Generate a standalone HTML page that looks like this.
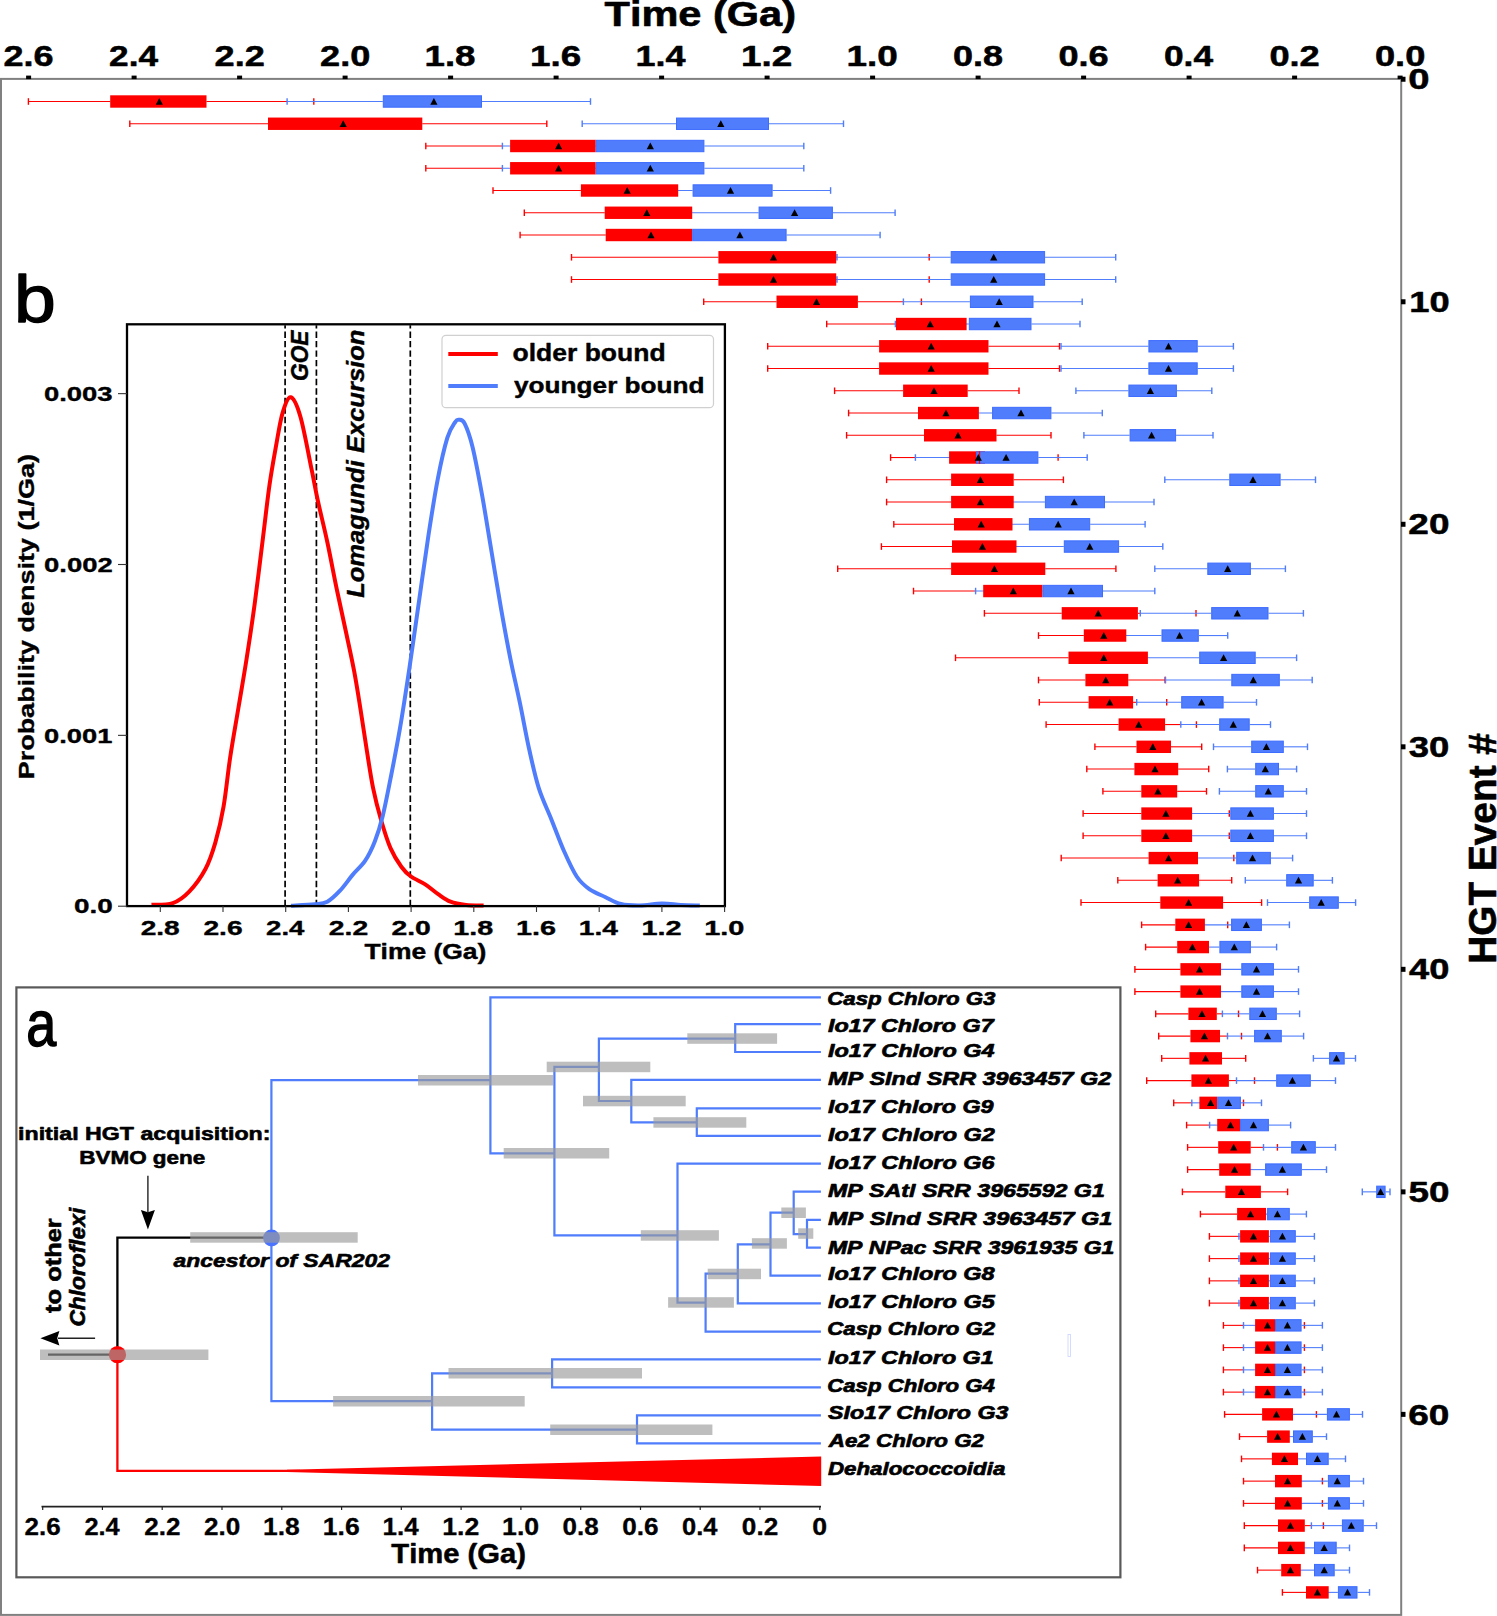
<!DOCTYPE html>
<html><head><meta charset="utf-8"><style>
html,body{margin:0;padding:0;background:#fff;}
svg{display:block;font-family:"Liberation Sans",sans-serif;font-kerning:none;}
</style></head><body>
<svg width="1497" height="1616" viewBox="0 0 1497 1616">
<rect width="1497" height="1616" fill="#fff"/>
<g id="boxes">
<line x1="206.5" y1="101.50" x2="287.1" y2="101.50" stroke="#ff0000" stroke-width="1.10"/><line x1="28.4" y1="101.50" x2="110.2" y2="101.50" stroke="#ff0000" stroke-width="1.10"/><line x1="28.4" y1="98.20" x2="28.4" y2="104.80" stroke="#ff0000" stroke-width="1.40"/><line x1="313.8" y1="98.20" x2="313.8" y2="104.80" stroke="#ff0000" stroke-width="1.40"/><line x1="422.3" y1="123.75" x2="546.8" y2="123.75" stroke="#ff0000" stroke-width="1.10"/><line x1="129.8" y1="123.75" x2="268.0" y2="123.75" stroke="#ff0000" stroke-width="1.10"/><line x1="129.8" y1="120.45" x2="129.8" y2="127.05" stroke="#ff0000" stroke-width="1.40"/><line x1="546.8" y1="120.45" x2="546.8" y2="127.05" stroke="#ff0000" stroke-width="1.40"/><line x1="425.8" y1="146.01" x2="502.4" y2="146.01" stroke="#ff0000" stroke-width="1.10"/><line x1="425.8" y1="142.71" x2="425.8" y2="149.31" stroke="#ff0000" stroke-width="1.40"/><line x1="425.8" y1="168.26" x2="502.4" y2="168.26" stroke="#ff0000" stroke-width="1.10"/><line x1="425.8" y1="164.96" x2="425.8" y2="171.56" stroke="#ff0000" stroke-width="1.40"/><line x1="493.0" y1="190.51" x2="580.9" y2="190.51" stroke="#ff0000" stroke-width="1.10"/><line x1="493.0" y1="187.21" x2="493.0" y2="193.81" stroke="#ff0000" stroke-width="1.40"/><line x1="524.3" y1="212.76" x2="604.7" y2="212.76" stroke="#ff0000" stroke-width="1.10"/><line x1="524.3" y1="209.46" x2="524.3" y2="216.06" stroke="#ff0000" stroke-width="1.40"/><line x1="520.1" y1="235.01" x2="605.7" y2="235.01" stroke="#ff0000" stroke-width="1.10"/><line x1="520.1" y1="231.71" x2="520.1" y2="238.31" stroke="#ff0000" stroke-width="1.40"/><line x1="836.2" y1="257.27" x2="837.0" y2="257.27" stroke="#ff0000" stroke-width="1.10"/><line x1="571.5" y1="257.27" x2="718.4" y2="257.27" stroke="#ff0000" stroke-width="1.10"/><line x1="571.5" y1="253.97" x2="571.5" y2="260.57" stroke="#ff0000" stroke-width="1.40"/><line x1="929.2" y1="253.97" x2="929.2" y2="260.57" stroke="#ff0000" stroke-width="1.40"/><line x1="836.2" y1="279.52" x2="837.0" y2="279.52" stroke="#ff0000" stroke-width="1.10"/><line x1="571.5" y1="279.52" x2="718.4" y2="279.52" stroke="#ff0000" stroke-width="1.10"/><line x1="571.5" y1="276.22" x2="571.5" y2="282.82" stroke="#ff0000" stroke-width="1.40"/><line x1="929.2" y1="276.22" x2="929.2" y2="282.82" stroke="#ff0000" stroke-width="1.40"/><line x1="857.9" y1="301.77" x2="903.4" y2="301.77" stroke="#ff0000" stroke-width="1.10"/><line x1="703.7" y1="301.77" x2="776.5" y2="301.77" stroke="#ff0000" stroke-width="1.10"/><line x1="703.7" y1="298.47" x2="703.7" y2="305.07" stroke="#ff0000" stroke-width="1.40"/><line x1="921.4" y1="298.47" x2="921.4" y2="305.07" stroke="#ff0000" stroke-width="1.40"/><line x1="826.7" y1="324.02" x2="895.4" y2="324.02" stroke="#ff0000" stroke-width="1.10"/><line x1="826.7" y1="320.72" x2="826.7" y2="327.32" stroke="#ff0000" stroke-width="1.40"/><line x1="988.5" y1="346.27" x2="1059.5" y2="346.27" stroke="#ff0000" stroke-width="1.10"/><line x1="767.7" y1="346.27" x2="879.1" y2="346.27" stroke="#ff0000" stroke-width="1.10"/><line x1="767.7" y1="342.97" x2="767.7" y2="349.57" stroke="#ff0000" stroke-width="1.40"/><line x1="1059.5" y1="342.97" x2="1059.5" y2="349.57" stroke="#ff0000" stroke-width="1.40"/><line x1="988.5" y1="368.53" x2="1059.5" y2="368.53" stroke="#ff0000" stroke-width="1.10"/><line x1="767.7" y1="368.53" x2="879.1" y2="368.53" stroke="#ff0000" stroke-width="1.10"/><line x1="767.7" y1="365.23" x2="767.7" y2="371.83" stroke="#ff0000" stroke-width="1.40"/><line x1="1059.5" y1="365.23" x2="1059.5" y2="371.83" stroke="#ff0000" stroke-width="1.40"/><line x1="967.7" y1="390.78" x2="1019.0" y2="390.78" stroke="#ff0000" stroke-width="1.10"/><line x1="834.6" y1="390.78" x2="903.1" y2="390.78" stroke="#ff0000" stroke-width="1.10"/><line x1="834.6" y1="387.48" x2="834.6" y2="394.08" stroke="#ff0000" stroke-width="1.40"/><line x1="1019.0" y1="387.48" x2="1019.0" y2="394.08" stroke="#ff0000" stroke-width="1.40"/><line x1="848.6" y1="413.03" x2="918.0" y2="413.03" stroke="#ff0000" stroke-width="1.10"/><line x1="848.6" y1="409.73" x2="848.6" y2="416.33" stroke="#ff0000" stroke-width="1.40"/><line x1="996.5" y1="435.28" x2="1051.0" y2="435.28" stroke="#ff0000" stroke-width="1.10"/><line x1="846.6" y1="435.28" x2="924.0" y2="435.28" stroke="#ff0000" stroke-width="1.10"/><line x1="846.6" y1="431.98" x2="846.6" y2="438.58" stroke="#ff0000" stroke-width="1.40"/><line x1="1051.0" y1="431.98" x2="1051.0" y2="438.58" stroke="#ff0000" stroke-width="1.40"/><line x1="890.6" y1="457.53" x2="915.4" y2="457.53" stroke="#ff0000" stroke-width="1.10"/><line x1="890.6" y1="454.23" x2="890.6" y2="460.83" stroke="#ff0000" stroke-width="1.40"/><line x1="1058.1" y1="454.23" x2="1058.1" y2="460.83" stroke="#ff0000" stroke-width="1.40"/><line x1="1013.7" y1="479.79" x2="1063.4" y2="479.79" stroke="#ff0000" stroke-width="1.10"/><line x1="886.6" y1="479.79" x2="951.1" y2="479.79" stroke="#ff0000" stroke-width="1.10"/><line x1="886.6" y1="476.49" x2="886.6" y2="483.09" stroke="#ff0000" stroke-width="1.40"/><line x1="1063.4" y1="476.49" x2="1063.4" y2="483.09" stroke="#ff0000" stroke-width="1.40"/><line x1="886.6" y1="502.04" x2="951.1" y2="502.04" stroke="#ff0000" stroke-width="1.10"/><line x1="886.6" y1="498.74" x2="886.6" y2="505.34" stroke="#ff0000" stroke-width="1.40"/><line x1="893.8" y1="524.29" x2="954.0" y2="524.29" stroke="#ff0000" stroke-width="1.10"/><line x1="893.8" y1="520.99" x2="893.8" y2="527.59" stroke="#ff0000" stroke-width="1.40"/><line x1="881.4" y1="546.54" x2="952.0" y2="546.54" stroke="#ff0000" stroke-width="1.10"/><line x1="881.4" y1="543.24" x2="881.4" y2="549.84" stroke="#ff0000" stroke-width="1.40"/><line x1="1045.3" y1="568.79" x2="1115.9" y2="568.79" stroke="#ff0000" stroke-width="1.10"/><line x1="837.7" y1="568.79" x2="951.1" y2="568.79" stroke="#ff0000" stroke-width="1.10"/><line x1="837.7" y1="565.49" x2="837.7" y2="572.09" stroke="#ff0000" stroke-width="1.40"/><line x1="1115.9" y1="565.49" x2="1115.9" y2="572.09" stroke="#ff0000" stroke-width="1.40"/><line x1="913.5" y1="591.05" x2="975.6" y2="591.05" stroke="#ff0000" stroke-width="1.10"/><line x1="913.5" y1="587.75" x2="913.5" y2="594.35" stroke="#ff0000" stroke-width="1.40"/><line x1="1137.9" y1="613.30" x2="1140.3" y2="613.30" stroke="#ff0000" stroke-width="1.10"/><line x1="984.4" y1="613.30" x2="1061.7" y2="613.30" stroke="#ff0000" stroke-width="1.10"/><line x1="984.4" y1="610.00" x2="984.4" y2="616.60" stroke="#ff0000" stroke-width="1.40"/><line x1="1196.0" y1="610.00" x2="1196.0" y2="616.60" stroke="#ff0000" stroke-width="1.40"/><line x1="1038.5" y1="635.55" x2="1083.8" y2="635.55" stroke="#ff0000" stroke-width="1.10"/><line x1="1038.5" y1="632.25" x2="1038.5" y2="638.85" stroke="#ff0000" stroke-width="1.40"/><line x1="955.5" y1="657.80" x2="1068.5" y2="657.80" stroke="#ff0000" stroke-width="1.10"/><line x1="955.5" y1="654.50" x2="955.5" y2="661.10" stroke="#ff0000" stroke-width="1.40"/><line x1="1128.3" y1="680.05" x2="1165.1" y2="680.05" stroke="#ff0000" stroke-width="1.10"/><line x1="1038.5" y1="680.05" x2="1085.4" y2="680.05" stroke="#ff0000" stroke-width="1.10"/><line x1="1038.5" y1="676.75" x2="1038.5" y2="683.35" stroke="#ff0000" stroke-width="1.40"/><line x1="1165.1" y1="676.75" x2="1165.1" y2="683.35" stroke="#ff0000" stroke-width="1.40"/><line x1="1133.1" y1="702.31" x2="1136.7" y2="702.31" stroke="#ff0000" stroke-width="1.10"/><line x1="1039.3" y1="702.31" x2="1088.6" y2="702.31" stroke="#ff0000" stroke-width="1.10"/><line x1="1039.3" y1="699.01" x2="1039.3" y2="705.61" stroke="#ff0000" stroke-width="1.40"/><line x1="1166.7" y1="699.01" x2="1166.7" y2="705.61" stroke="#ff0000" stroke-width="1.40"/><line x1="1165.1" y1="724.56" x2="1180.8" y2="724.56" stroke="#ff0000" stroke-width="1.10"/><line x1="1046.1" y1="724.56" x2="1118.6" y2="724.56" stroke="#ff0000" stroke-width="1.10"/><line x1="1046.1" y1="721.26" x2="1046.1" y2="727.86" stroke="#ff0000" stroke-width="1.40"/><line x1="1196.4" y1="721.26" x2="1196.4" y2="727.86" stroke="#ff0000" stroke-width="1.40"/><line x1="1171.0" y1="746.81" x2="1201.7" y2="746.81" stroke="#ff0000" stroke-width="1.10"/><line x1="1094.9" y1="746.81" x2="1136.5" y2="746.81" stroke="#ff0000" stroke-width="1.10"/><line x1="1094.9" y1="743.51" x2="1094.9" y2="750.11" stroke="#ff0000" stroke-width="1.40"/><line x1="1201.7" y1="743.51" x2="1201.7" y2="750.11" stroke="#ff0000" stroke-width="1.40"/><line x1="1178.2" y1="769.06" x2="1208.7" y2="769.06" stroke="#ff0000" stroke-width="1.10"/><line x1="1086.8" y1="769.06" x2="1134.4" y2="769.06" stroke="#ff0000" stroke-width="1.10"/><line x1="1086.8" y1="765.76" x2="1086.8" y2="772.36" stroke="#ff0000" stroke-width="1.40"/><line x1="1208.7" y1="765.76" x2="1208.7" y2="772.36" stroke="#ff0000" stroke-width="1.40"/><line x1="1177.2" y1="791.31" x2="1206.5" y2="791.31" stroke="#ff0000" stroke-width="1.10"/><line x1="1102.9" y1="791.31" x2="1141.3" y2="791.31" stroke="#ff0000" stroke-width="1.10"/><line x1="1102.9" y1="788.01" x2="1102.9" y2="794.61" stroke="#ff0000" stroke-width="1.40"/><line x1="1206.5" y1="788.01" x2="1206.5" y2="794.61" stroke="#ff0000" stroke-width="1.40"/><line x1="1083.1" y1="813.57" x2="1141.3" y2="813.57" stroke="#ff0000" stroke-width="1.10"/><line x1="1083.1" y1="810.27" x2="1083.1" y2="816.87" stroke="#ff0000" stroke-width="1.40"/><line x1="1229.3" y1="810.27" x2="1229.3" y2="816.87" stroke="#ff0000" stroke-width="1.40"/><line x1="1083.1" y1="835.82" x2="1141.3" y2="835.82" stroke="#ff0000" stroke-width="1.10"/><line x1="1083.1" y1="832.52" x2="1083.1" y2="839.12" stroke="#ff0000" stroke-width="1.40"/><line x1="1229.3" y1="832.52" x2="1229.3" y2="839.12" stroke="#ff0000" stroke-width="1.40"/><line x1="1061.2" y1="858.07" x2="1148.6" y2="858.07" stroke="#ff0000" stroke-width="1.10"/><line x1="1061.2" y1="854.77" x2="1061.2" y2="861.37" stroke="#ff0000" stroke-width="1.40"/><line x1="1233.8" y1="854.77" x2="1233.8" y2="861.37" stroke="#ff0000" stroke-width="1.40"/><line x1="1199.1" y1="880.32" x2="1231.7" y2="880.32" stroke="#ff0000" stroke-width="1.10"/><line x1="1117.8" y1="880.32" x2="1157.6" y2="880.32" stroke="#ff0000" stroke-width="1.10"/><line x1="1117.8" y1="877.02" x2="1117.8" y2="883.62" stroke="#ff0000" stroke-width="1.40"/><line x1="1231.7" y1="877.02" x2="1231.7" y2="883.62" stroke="#ff0000" stroke-width="1.40"/><line x1="1223.1" y1="902.57" x2="1261.6" y2="902.57" stroke="#ff0000" stroke-width="1.10"/><line x1="1081.0" y1="902.57" x2="1160.3" y2="902.57" stroke="#ff0000" stroke-width="1.10"/><line x1="1081.0" y1="899.27" x2="1081.0" y2="905.87" stroke="#ff0000" stroke-width="1.40"/><line x1="1261.6" y1="899.27" x2="1261.6" y2="905.87" stroke="#ff0000" stroke-width="1.40"/><line x1="1141.6" y1="924.83" x2="1175.3" y2="924.83" stroke="#ff0000" stroke-width="1.10"/><line x1="1141.6" y1="921.53" x2="1141.6" y2="928.13" stroke="#ff0000" stroke-width="1.40"/><line x1="1227.7" y1="921.53" x2="1227.7" y2="928.13" stroke="#ff0000" stroke-width="1.40"/><line x1="1145.6" y1="947.08" x2="1177.2" y2="947.08" stroke="#ff0000" stroke-width="1.10"/><line x1="1145.6" y1="943.78" x2="1145.6" y2="950.38" stroke="#ff0000" stroke-width="1.40"/><line x1="1134.9" y1="969.33" x2="1180.4" y2="969.33" stroke="#ff0000" stroke-width="1.10"/><line x1="1134.9" y1="966.03" x2="1134.9" y2="972.63" stroke="#ff0000" stroke-width="1.40"/><line x1="1134.9" y1="991.58" x2="1180.4" y2="991.58" stroke="#ff0000" stroke-width="1.10"/><line x1="1134.9" y1="988.28" x2="1134.9" y2="994.88" stroke="#ff0000" stroke-width="1.40"/><line x1="1216.8" y1="1013.83" x2="1222.4" y2="1013.83" stroke="#ff0000" stroke-width="1.10"/><line x1="1155.7" y1="1013.83" x2="1188.4" y2="1013.83" stroke="#ff0000" stroke-width="1.10"/><line x1="1155.7" y1="1010.53" x2="1155.7" y2="1017.13" stroke="#ff0000" stroke-width="1.40"/><line x1="1238.5" y1="1010.53" x2="1238.5" y2="1017.13" stroke="#ff0000" stroke-width="1.40"/><line x1="1220.0" y1="1036.09" x2="1227.5" y2="1036.09" stroke="#ff0000" stroke-width="1.10"/><line x1="1158.7" y1="1036.09" x2="1190.4" y2="1036.09" stroke="#ff0000" stroke-width="1.10"/><line x1="1158.7" y1="1032.79" x2="1158.7" y2="1039.39" stroke="#ff0000" stroke-width="1.40"/><line x1="1241.5" y1="1032.79" x2="1241.5" y2="1039.39" stroke="#ff0000" stroke-width="1.40"/><line x1="1222.0" y1="1058.34" x2="1245.7" y2="1058.34" stroke="#ff0000" stroke-width="1.10"/><line x1="1161.7" y1="1058.34" x2="1189.4" y2="1058.34" stroke="#ff0000" stroke-width="1.10"/><line x1="1161.7" y1="1055.04" x2="1161.7" y2="1061.64" stroke="#ff0000" stroke-width="1.40"/><line x1="1245.7" y1="1055.04" x2="1245.7" y2="1061.64" stroke="#ff0000" stroke-width="1.40"/><line x1="1228.9" y1="1080.59" x2="1236.5" y2="1080.59" stroke="#ff0000" stroke-width="1.10"/><line x1="1146.7" y1="1080.59" x2="1191.4" y2="1080.59" stroke="#ff0000" stroke-width="1.10"/><line x1="1146.7" y1="1077.29" x2="1146.7" y2="1083.89" stroke="#ff0000" stroke-width="1.40"/><line x1="1254.5" y1="1077.29" x2="1254.5" y2="1083.89" stroke="#ff0000" stroke-width="1.40"/><line x1="1173.7" y1="1102.84" x2="1191.8" y2="1102.84" stroke="#ff0000" stroke-width="1.10"/><line x1="1173.7" y1="1099.54" x2="1173.7" y2="1106.14" stroke="#ff0000" stroke-width="1.40"/><line x1="1243.5" y1="1099.54" x2="1243.5" y2="1106.14" stroke="#ff0000" stroke-width="1.40"/><line x1="1186.6" y1="1125.09" x2="1209.6" y2="1125.09" stroke="#ff0000" stroke-width="1.10"/><line x1="1186.6" y1="1121.79" x2="1186.6" y2="1128.39" stroke="#ff0000" stroke-width="1.40"/><line x1="1250.7" y1="1147.35" x2="1263.5" y2="1147.35" stroke="#ff0000" stroke-width="1.10"/><line x1="1187.6" y1="1147.35" x2="1218.2" y2="1147.35" stroke="#ff0000" stroke-width="1.10"/><line x1="1187.6" y1="1144.05" x2="1187.6" y2="1150.65" stroke="#ff0000" stroke-width="1.40"/><line x1="1277.4" y1="1144.05" x2="1277.4" y2="1150.65" stroke="#ff0000" stroke-width="1.40"/><line x1="1187.6" y1="1169.60" x2="1219.2" y2="1169.60" stroke="#ff0000" stroke-width="1.10"/><line x1="1187.6" y1="1166.30" x2="1187.6" y2="1172.90" stroke="#ff0000" stroke-width="1.40"/><line x1="1260.9" y1="1191.85" x2="1287.6" y2="1191.85" stroke="#ff0000" stroke-width="1.10"/><line x1="1182.4" y1="1191.85" x2="1225.3" y2="1191.85" stroke="#ff0000" stroke-width="1.10"/><line x1="1182.4" y1="1188.55" x2="1182.4" y2="1195.15" stroke="#ff0000" stroke-width="1.40"/><line x1="1287.6" y1="1188.55" x2="1287.6" y2="1195.15" stroke="#ff0000" stroke-width="1.40"/><line x1="1200.4" y1="1214.10" x2="1237.1" y2="1214.10" stroke="#ff0000" stroke-width="1.10"/><line x1="1200.4" y1="1210.80" x2="1200.4" y2="1217.40" stroke="#ff0000" stroke-width="1.40"/><line x1="1209.4" y1="1236.35" x2="1239.0" y2="1236.35" stroke="#ff0000" stroke-width="1.10"/><line x1="1209.4" y1="1233.05" x2="1209.4" y2="1239.65" stroke="#ff0000" stroke-width="1.40"/><line x1="1209.4" y1="1258.61" x2="1239.0" y2="1258.61" stroke="#ff0000" stroke-width="1.10"/><line x1="1209.4" y1="1255.31" x2="1209.4" y2="1261.91" stroke="#ff0000" stroke-width="1.40"/><line x1="1209.4" y1="1280.86" x2="1239.0" y2="1280.86" stroke="#ff0000" stroke-width="1.10"/><line x1="1209.4" y1="1277.56" x2="1209.4" y2="1284.16" stroke="#ff0000" stroke-width="1.40"/><line x1="1209.4" y1="1303.11" x2="1239.0" y2="1303.11" stroke="#ff0000" stroke-width="1.10"/><line x1="1209.4" y1="1299.81" x2="1209.4" y2="1306.41" stroke="#ff0000" stroke-width="1.40"/><line x1="1223.4" y1="1325.36" x2="1243.5" y2="1325.36" stroke="#ff0000" stroke-width="1.10"/><line x1="1223.4" y1="1322.06" x2="1223.4" y2="1328.66" stroke="#ff0000" stroke-width="1.40"/><line x1="1304.4" y1="1322.06" x2="1304.4" y2="1328.66" stroke="#ff0000" stroke-width="1.40"/><line x1="1223.4" y1="1347.61" x2="1243.5" y2="1347.61" stroke="#ff0000" stroke-width="1.10"/><line x1="1223.4" y1="1344.31" x2="1223.4" y2="1350.91" stroke="#ff0000" stroke-width="1.40"/><line x1="1304.4" y1="1344.31" x2="1304.4" y2="1350.91" stroke="#ff0000" stroke-width="1.40"/><line x1="1223.4" y1="1369.87" x2="1243.5" y2="1369.87" stroke="#ff0000" stroke-width="1.10"/><line x1="1223.4" y1="1366.57" x2="1223.4" y2="1373.17" stroke="#ff0000" stroke-width="1.40"/><line x1="1304.4" y1="1366.57" x2="1304.4" y2="1373.17" stroke="#ff0000" stroke-width="1.40"/><line x1="1223.4" y1="1392.12" x2="1243.5" y2="1392.12" stroke="#ff0000" stroke-width="1.10"/><line x1="1223.4" y1="1388.82" x2="1223.4" y2="1395.42" stroke="#ff0000" stroke-width="1.40"/><line x1="1304.4" y1="1388.82" x2="1304.4" y2="1395.42" stroke="#ff0000" stroke-width="1.40"/><line x1="1224.6" y1="1414.37" x2="1262.1" y2="1414.37" stroke="#ff0000" stroke-width="1.10"/><line x1="1224.6" y1="1411.07" x2="1224.6" y2="1417.67" stroke="#ff0000" stroke-width="1.40"/><line x1="1316.4" y1="1411.07" x2="1316.4" y2="1417.67" stroke="#ff0000" stroke-width="1.40"/><line x1="1239.5" y1="1436.62" x2="1267.1" y2="1436.62" stroke="#ff0000" stroke-width="1.10"/><line x1="1239.5" y1="1433.32" x2="1239.5" y2="1439.92" stroke="#ff0000" stroke-width="1.40"/><line x1="1241.5" y1="1458.87" x2="1271.9" y2="1458.87" stroke="#ff0000" stroke-width="1.10"/><line x1="1241.5" y1="1455.57" x2="1241.5" y2="1462.17" stroke="#ff0000" stroke-width="1.40"/><line x1="1243.5" y1="1481.13" x2="1275.0" y2="1481.13" stroke="#ff0000" stroke-width="1.10"/><line x1="1243.5" y1="1477.83" x2="1243.5" y2="1484.43" stroke="#ff0000" stroke-width="1.40"/><line x1="1322.4" y1="1477.83" x2="1322.4" y2="1484.43" stroke="#ff0000" stroke-width="1.40"/><line x1="1243.5" y1="1503.38" x2="1275.0" y2="1503.38" stroke="#ff0000" stroke-width="1.10"/><line x1="1243.5" y1="1500.08" x2="1243.5" y2="1506.68" stroke="#ff0000" stroke-width="1.40"/><line x1="1322.4" y1="1500.08" x2="1322.4" y2="1506.68" stroke="#ff0000" stroke-width="1.40"/><line x1="1304.8" y1="1525.63" x2="1311.4" y2="1525.63" stroke="#ff0000" stroke-width="1.10"/><line x1="1244.3" y1="1525.63" x2="1278.0" y2="1525.63" stroke="#ff0000" stroke-width="1.10"/><line x1="1244.3" y1="1522.33" x2="1244.3" y2="1528.93" stroke="#ff0000" stroke-width="1.40"/><line x1="1323.4" y1="1522.33" x2="1323.4" y2="1528.93" stroke="#ff0000" stroke-width="1.40"/><line x1="1244.3" y1="1547.88" x2="1278.0" y2="1547.88" stroke="#ff0000" stroke-width="1.10"/><line x1="1244.3" y1="1544.58" x2="1244.3" y2="1551.18" stroke="#ff0000" stroke-width="1.40"/><line x1="1257.5" y1="1570.13" x2="1281.2" y2="1570.13" stroke="#ff0000" stroke-width="1.10"/><line x1="1257.5" y1="1566.83" x2="1257.5" y2="1573.43" stroke="#ff0000" stroke-width="1.40"/><line x1="1282.4" y1="1592.39" x2="1306.0" y2="1592.39" stroke="#ff0000" stroke-width="1.10"/><line x1="1282.4" y1="1589.09" x2="1282.4" y2="1595.69" stroke="#ff0000" stroke-width="1.40"/>
<line x1="482.0" y1="101.50" x2="590.5" y2="101.50" stroke="#4f7dfb" stroke-width="1.10"/><line x1="287.1" y1="101.50" x2="382.8" y2="101.50" stroke="#4f7dfb" stroke-width="1.10"/><line x1="287.1" y1="98.20" x2="287.1" y2="104.80" stroke="#4f7dfb" stroke-width="1.40"/><line x1="590.5" y1="98.20" x2="590.5" y2="104.80" stroke="#4f7dfb" stroke-width="1.40"/><line x1="769.0" y1="123.75" x2="843.5" y2="123.75" stroke="#4f7dfb" stroke-width="1.10"/><line x1="582.2" y1="123.75" x2="676.0" y2="123.75" stroke="#4f7dfb" stroke-width="1.10"/><line x1="582.2" y1="120.45" x2="582.2" y2="127.05" stroke="#4f7dfb" stroke-width="1.40"/><line x1="843.5" y1="120.45" x2="843.5" y2="127.05" stroke="#4f7dfb" stroke-width="1.40"/><line x1="704.4" y1="146.01" x2="803.8" y2="146.01" stroke="#4f7dfb" stroke-width="1.10"/><line x1="502.4" y1="146.01" x2="595.7" y2="146.01" stroke="#4f7dfb" stroke-width="1.10"/><line x1="502.4" y1="142.71" x2="502.4" y2="149.31" stroke="#4f7dfb" stroke-width="1.40"/><line x1="803.8" y1="142.71" x2="803.8" y2="149.31" stroke="#4f7dfb" stroke-width="1.40"/><line x1="704.4" y1="168.26" x2="803.8" y2="168.26" stroke="#4f7dfb" stroke-width="1.10"/><line x1="502.4" y1="168.26" x2="595.7" y2="168.26" stroke="#4f7dfb" stroke-width="1.10"/><line x1="502.4" y1="164.96" x2="502.4" y2="171.56" stroke="#4f7dfb" stroke-width="1.40"/><line x1="803.8" y1="164.96" x2="803.8" y2="171.56" stroke="#4f7dfb" stroke-width="1.40"/><line x1="772.6" y1="190.51" x2="830.6" y2="190.51" stroke="#4f7dfb" stroke-width="1.10"/><line x1="620.0" y1="190.51" x2="692.6" y2="190.51" stroke="#4f7dfb" stroke-width="1.10"/><line x1="620.0" y1="187.21" x2="620.0" y2="193.81" stroke="#4f7dfb" stroke-width="1.40"/><line x1="830.6" y1="187.21" x2="830.6" y2="193.81" stroke="#4f7dfb" stroke-width="1.40"/><line x1="832.9" y1="212.76" x2="895.1" y2="212.76" stroke="#4f7dfb" stroke-width="1.10"/><line x1="650.0" y1="212.76" x2="758.6" y2="212.76" stroke="#4f7dfb" stroke-width="1.10"/><line x1="650.0" y1="209.46" x2="650.0" y2="216.06" stroke="#4f7dfb" stroke-width="1.40"/><line x1="895.1" y1="209.46" x2="895.1" y2="216.06" stroke="#4f7dfb" stroke-width="1.40"/><line x1="786.6" y1="235.01" x2="880.1" y2="235.01" stroke="#4f7dfb" stroke-width="1.10"/><line x1="650.0" y1="235.01" x2="692.2" y2="235.01" stroke="#4f7dfb" stroke-width="1.10"/><line x1="650.0" y1="231.71" x2="650.0" y2="238.31" stroke="#4f7dfb" stroke-width="1.40"/><line x1="880.1" y1="231.71" x2="880.1" y2="238.31" stroke="#4f7dfb" stroke-width="1.40"/><line x1="1045.1" y1="257.27" x2="1115.7" y2="257.27" stroke="#4f7dfb" stroke-width="1.10"/><line x1="837.0" y1="257.27" x2="950.7" y2="257.27" stroke="#4f7dfb" stroke-width="1.10"/><line x1="837.0" y1="253.97" x2="837.0" y2="260.57" stroke="#4f7dfb" stroke-width="1.40"/><line x1="1115.7" y1="253.97" x2="1115.7" y2="260.57" stroke="#4f7dfb" stroke-width="1.40"/><line x1="1045.1" y1="279.52" x2="1115.7" y2="279.52" stroke="#4f7dfb" stroke-width="1.10"/><line x1="837.0" y1="279.52" x2="950.7" y2="279.52" stroke="#4f7dfb" stroke-width="1.10"/><line x1="837.0" y1="276.22" x2="837.0" y2="282.82" stroke="#4f7dfb" stroke-width="1.40"/><line x1="1115.7" y1="276.22" x2="1115.7" y2="282.82" stroke="#4f7dfb" stroke-width="1.40"/><line x1="1033.5" y1="301.77" x2="1082.2" y2="301.77" stroke="#4f7dfb" stroke-width="1.10"/><line x1="903.4" y1="301.77" x2="969.9" y2="301.77" stroke="#4f7dfb" stroke-width="1.10"/><line x1="903.4" y1="298.47" x2="903.4" y2="305.07" stroke="#4f7dfb" stroke-width="1.40"/><line x1="1082.2" y1="298.47" x2="1082.2" y2="305.07" stroke="#4f7dfb" stroke-width="1.40"/><line x1="1031.5" y1="324.02" x2="1080.0" y2="324.02" stroke="#4f7dfb" stroke-width="1.10"/><line x1="895.4" y1="324.02" x2="968.8" y2="324.02" stroke="#4f7dfb" stroke-width="1.10"/><line x1="895.4" y1="320.72" x2="895.4" y2="327.32" stroke="#4f7dfb" stroke-width="1.40"/><line x1="1080.0" y1="320.72" x2="1080.0" y2="327.32" stroke="#4f7dfb" stroke-width="1.40"/><line x1="1197.7" y1="346.27" x2="1233.4" y2="346.27" stroke="#4f7dfb" stroke-width="1.10"/><line x1="1061.0" y1="346.27" x2="1148.4" y2="346.27" stroke="#4f7dfb" stroke-width="1.10"/><line x1="1061.0" y1="342.97" x2="1061.0" y2="349.57" stroke="#4f7dfb" stroke-width="1.40"/><line x1="1233.4" y1="342.97" x2="1233.4" y2="349.57" stroke="#4f7dfb" stroke-width="1.40"/><line x1="1197.7" y1="368.53" x2="1233.4" y2="368.53" stroke="#4f7dfb" stroke-width="1.10"/><line x1="1061.0" y1="368.53" x2="1148.4" y2="368.53" stroke="#4f7dfb" stroke-width="1.10"/><line x1="1061.0" y1="365.23" x2="1061.0" y2="371.83" stroke="#4f7dfb" stroke-width="1.40"/><line x1="1233.4" y1="365.23" x2="1233.4" y2="371.83" stroke="#4f7dfb" stroke-width="1.40"/><line x1="1176.9" y1="390.78" x2="1211.8" y2="390.78" stroke="#4f7dfb" stroke-width="1.10"/><line x1="1075.9" y1="390.78" x2="1128.4" y2="390.78" stroke="#4f7dfb" stroke-width="1.10"/><line x1="1075.9" y1="387.48" x2="1075.9" y2="394.08" stroke="#4f7dfb" stroke-width="1.40"/><line x1="1211.8" y1="387.48" x2="1211.8" y2="394.08" stroke="#4f7dfb" stroke-width="1.40"/><line x1="1051.4" y1="413.03" x2="1102.3" y2="413.03" stroke="#4f7dfb" stroke-width="1.10"/><line x1="940.0" y1="413.03" x2="992.1" y2="413.03" stroke="#4f7dfb" stroke-width="1.10"/><line x1="940.0" y1="409.73" x2="940.0" y2="416.33" stroke="#4f7dfb" stroke-width="1.40"/><line x1="1102.3" y1="409.73" x2="1102.3" y2="416.33" stroke="#4f7dfb" stroke-width="1.40"/><line x1="1176.1" y1="435.28" x2="1213.0" y2="435.28" stroke="#4f7dfb" stroke-width="1.10"/><line x1="1083.9" y1="435.28" x2="1129.6" y2="435.28" stroke="#4f7dfb" stroke-width="1.10"/><line x1="1083.9" y1="431.98" x2="1083.9" y2="438.58" stroke="#4f7dfb" stroke-width="1.40"/><line x1="1213.0" y1="431.98" x2="1213.0" y2="438.58" stroke="#4f7dfb" stroke-width="1.40"/><line x1="1038.4" y1="457.53" x2="1087.2" y2="457.53" stroke="#4f7dfb" stroke-width="1.10"/><line x1="915.4" y1="457.53" x2="976.0" y2="457.53" stroke="#4f7dfb" stroke-width="1.10"/><line x1="915.4" y1="454.23" x2="915.4" y2="460.83" stroke="#4f7dfb" stroke-width="1.40"/><line x1="1087.2" y1="454.23" x2="1087.2" y2="460.83" stroke="#4f7dfb" stroke-width="1.40"/><line x1="1280.6" y1="479.79" x2="1315.5" y2="479.79" stroke="#4f7dfb" stroke-width="1.10"/><line x1="1164.8" y1="479.79" x2="1229.3" y2="479.79" stroke="#4f7dfb" stroke-width="1.10"/><line x1="1164.8" y1="476.49" x2="1164.8" y2="483.09" stroke="#4f7dfb" stroke-width="1.40"/><line x1="1315.5" y1="476.49" x2="1315.5" y2="483.09" stroke="#4f7dfb" stroke-width="1.40"/><line x1="1105.0" y1="502.04" x2="1154.0" y2="502.04" stroke="#4f7dfb" stroke-width="1.10"/><line x1="990.0" y1="502.04" x2="1044.9" y2="502.04" stroke="#4f7dfb" stroke-width="1.10"/><line x1="990.0" y1="498.74" x2="990.0" y2="505.34" stroke="#4f7dfb" stroke-width="1.40"/><line x1="1154.0" y1="498.74" x2="1154.0" y2="505.34" stroke="#4f7dfb" stroke-width="1.40"/><line x1="1090.2" y1="524.29" x2="1145.1" y2="524.29" stroke="#4f7dfb" stroke-width="1.10"/><line x1="990.0" y1="524.29" x2="1028.9" y2="524.29" stroke="#4f7dfb" stroke-width="1.10"/><line x1="990.0" y1="520.99" x2="990.0" y2="527.59" stroke="#4f7dfb" stroke-width="1.40"/><line x1="1145.1" y1="520.99" x2="1145.1" y2="527.59" stroke="#4f7dfb" stroke-width="1.40"/><line x1="1119.1" y1="546.54" x2="1162.8" y2="546.54" stroke="#4f7dfb" stroke-width="1.10"/><line x1="990.0" y1="546.54" x2="1063.8" y2="546.54" stroke="#4f7dfb" stroke-width="1.10"/><line x1="990.0" y1="543.24" x2="990.0" y2="549.84" stroke="#4f7dfb" stroke-width="1.40"/><line x1="1162.8" y1="543.24" x2="1162.8" y2="549.84" stroke="#4f7dfb" stroke-width="1.40"/><line x1="1250.9" y1="568.79" x2="1285.4" y2="568.79" stroke="#4f7dfb" stroke-width="1.10"/><line x1="1154.8" y1="568.79" x2="1207.3" y2="568.79" stroke="#4f7dfb" stroke-width="1.10"/><line x1="1154.8" y1="565.49" x2="1154.8" y2="572.09" stroke="#4f7dfb" stroke-width="1.40"/><line x1="1285.4" y1="565.49" x2="1285.4" y2="572.09" stroke="#4f7dfb" stroke-width="1.40"/><line x1="1103.0" y1="591.05" x2="1154.8" y2="591.05" stroke="#4f7dfb" stroke-width="1.10"/><line x1="975.6" y1="591.05" x2="1042.5" y2="591.05" stroke="#4f7dfb" stroke-width="1.10"/><line x1="975.6" y1="587.75" x2="975.6" y2="594.35" stroke="#4f7dfb" stroke-width="1.40"/><line x1="1154.8" y1="587.75" x2="1154.8" y2="594.35" stroke="#4f7dfb" stroke-width="1.40"/><line x1="1268.5" y1="613.30" x2="1303.4" y2="613.30" stroke="#4f7dfb" stroke-width="1.10"/><line x1="1140.3" y1="613.30" x2="1211.2" y2="613.30" stroke="#4f7dfb" stroke-width="1.10"/><line x1="1140.3" y1="610.00" x2="1140.3" y2="616.60" stroke="#4f7dfb" stroke-width="1.40"/><line x1="1303.4" y1="610.00" x2="1303.4" y2="616.60" stroke="#4f7dfb" stroke-width="1.40"/><line x1="1198.8" y1="635.55" x2="1227.7" y2="635.55" stroke="#4f7dfb" stroke-width="1.10"/><line x1="1110.0" y1="635.55" x2="1161.5" y2="635.55" stroke="#4f7dfb" stroke-width="1.10"/><line x1="1110.0" y1="632.25" x2="1110.0" y2="638.85" stroke="#4f7dfb" stroke-width="1.40"/><line x1="1227.7" y1="632.25" x2="1227.7" y2="638.85" stroke="#4f7dfb" stroke-width="1.40"/><line x1="1255.7" y1="657.80" x2="1296.6" y2="657.80" stroke="#4f7dfb" stroke-width="1.10"/><line x1="1130.0" y1="657.80" x2="1199.2" y2="657.80" stroke="#4f7dfb" stroke-width="1.10"/><line x1="1130.0" y1="654.50" x2="1130.0" y2="661.10" stroke="#4f7dfb" stroke-width="1.40"/><line x1="1296.6" y1="654.50" x2="1296.6" y2="661.10" stroke="#4f7dfb" stroke-width="1.40"/><line x1="1279.8" y1="680.05" x2="1312.2" y2="680.05" stroke="#4f7dfb" stroke-width="1.10"/><line x1="1165.5" y1="680.05" x2="1231.3" y2="680.05" stroke="#4f7dfb" stroke-width="1.10"/><line x1="1165.5" y1="676.75" x2="1165.5" y2="683.35" stroke="#4f7dfb" stroke-width="1.40"/><line x1="1312.2" y1="676.75" x2="1312.2" y2="683.35" stroke="#4f7dfb" stroke-width="1.40"/><line x1="1223.6" y1="702.31" x2="1256.5" y2="702.31" stroke="#4f7dfb" stroke-width="1.10"/><line x1="1136.7" y1="702.31" x2="1181.2" y2="702.31" stroke="#4f7dfb" stroke-width="1.10"/><line x1="1136.7" y1="699.01" x2="1136.7" y2="705.61" stroke="#4f7dfb" stroke-width="1.40"/><line x1="1256.5" y1="699.01" x2="1256.5" y2="705.61" stroke="#4f7dfb" stroke-width="1.40"/><line x1="1249.7" y1="724.56" x2="1270.5" y2="724.56" stroke="#4f7dfb" stroke-width="1.10"/><line x1="1180.8" y1="724.56" x2="1219.2" y2="724.56" stroke="#4f7dfb" stroke-width="1.10"/><line x1="1180.8" y1="721.26" x2="1180.8" y2="727.86" stroke="#4f7dfb" stroke-width="1.40"/><line x1="1270.5" y1="721.26" x2="1270.5" y2="727.86" stroke="#4f7dfb" stroke-width="1.40"/><line x1="1283.8" y1="746.81" x2="1307.5" y2="746.81" stroke="#4f7dfb" stroke-width="1.10"/><line x1="1213.5" y1="746.81" x2="1251.2" y2="746.81" stroke="#4f7dfb" stroke-width="1.10"/><line x1="1213.5" y1="743.51" x2="1213.5" y2="750.11" stroke="#4f7dfb" stroke-width="1.40"/><line x1="1307.5" y1="743.51" x2="1307.5" y2="750.11" stroke="#4f7dfb" stroke-width="1.40"/><line x1="1279.0" y1="769.06" x2="1296.6" y2="769.06" stroke="#4f7dfb" stroke-width="1.10"/><line x1="1227.4" y1="769.06" x2="1255.2" y2="769.06" stroke="#4f7dfb" stroke-width="1.10"/><line x1="1227.4" y1="765.76" x2="1227.4" y2="772.36" stroke="#4f7dfb" stroke-width="1.40"/><line x1="1296.6" y1="765.76" x2="1296.6" y2="772.36" stroke="#4f7dfb" stroke-width="1.40"/><line x1="1283.8" y1="791.31" x2="1306.5" y2="791.31" stroke="#4f7dfb" stroke-width="1.10"/><line x1="1219.4" y1="791.31" x2="1255.2" y2="791.31" stroke="#4f7dfb" stroke-width="1.10"/><line x1="1219.4" y1="788.01" x2="1219.4" y2="794.61" stroke="#4f7dfb" stroke-width="1.40"/><line x1="1306.5" y1="788.01" x2="1306.5" y2="794.61" stroke="#4f7dfb" stroke-width="1.40"/><line x1="1273.9" y1="813.57" x2="1306.5" y2="813.57" stroke="#4f7dfb" stroke-width="1.10"/><line x1="1170.0" y1="813.57" x2="1230.3" y2="813.57" stroke="#4f7dfb" stroke-width="1.10"/><line x1="1170.0" y1="810.27" x2="1170.0" y2="816.87" stroke="#4f7dfb" stroke-width="1.40"/><line x1="1306.5" y1="810.27" x2="1306.5" y2="816.87" stroke="#4f7dfb" stroke-width="1.40"/><line x1="1273.9" y1="835.82" x2="1306.5" y2="835.82" stroke="#4f7dfb" stroke-width="1.10"/><line x1="1170.0" y1="835.82" x2="1230.3" y2="835.82" stroke="#4f7dfb" stroke-width="1.10"/><line x1="1170.0" y1="832.52" x2="1170.0" y2="839.12" stroke="#4f7dfb" stroke-width="1.40"/><line x1="1306.5" y1="832.52" x2="1306.5" y2="839.12" stroke="#4f7dfb" stroke-width="1.40"/><line x1="1270.9" y1="858.07" x2="1292.6" y2="858.07" stroke="#4f7dfb" stroke-width="1.10"/><line x1="1180.0" y1="858.07" x2="1236.2" y2="858.07" stroke="#4f7dfb" stroke-width="1.10"/><line x1="1180.0" y1="854.77" x2="1180.0" y2="861.37" stroke="#4f7dfb" stroke-width="1.40"/><line x1="1292.6" y1="854.77" x2="1292.6" y2="861.37" stroke="#4f7dfb" stroke-width="1.40"/><line x1="1313.7" y1="880.32" x2="1332.4" y2="880.32" stroke="#4f7dfb" stroke-width="1.10"/><line x1="1245.3" y1="880.32" x2="1286.2" y2="880.32" stroke="#4f7dfb" stroke-width="1.10"/><line x1="1245.3" y1="877.02" x2="1245.3" y2="883.62" stroke="#4f7dfb" stroke-width="1.40"/><line x1="1332.4" y1="877.02" x2="1332.4" y2="883.62" stroke="#4f7dfb" stroke-width="1.40"/><line x1="1338.8" y1="902.57" x2="1355.6" y2="902.57" stroke="#4f7dfb" stroke-width="1.10"/><line x1="1267.5" y1="902.57" x2="1309.2" y2="902.57" stroke="#4f7dfb" stroke-width="1.10"/><line x1="1267.5" y1="899.27" x2="1267.5" y2="905.87" stroke="#4f7dfb" stroke-width="1.40"/><line x1="1355.6" y1="899.27" x2="1355.6" y2="905.87" stroke="#4f7dfb" stroke-width="1.40"/><line x1="1261.9" y1="924.83" x2="1289.4" y2="924.83" stroke="#4f7dfb" stroke-width="1.10"/><line x1="1190.0" y1="924.83" x2="1231.1" y2="924.83" stroke="#4f7dfb" stroke-width="1.10"/><line x1="1190.0" y1="921.53" x2="1190.0" y2="928.13" stroke="#4f7dfb" stroke-width="1.40"/><line x1="1289.4" y1="921.53" x2="1289.4" y2="928.13" stroke="#4f7dfb" stroke-width="1.40"/><line x1="1250.9" y1="947.08" x2="1276.6" y2="947.08" stroke="#4f7dfb" stroke-width="1.10"/><line x1="1195.0" y1="947.08" x2="1219.4" y2="947.08" stroke="#4f7dfb" stroke-width="1.10"/><line x1="1195.0" y1="943.78" x2="1195.0" y2="950.38" stroke="#4f7dfb" stroke-width="1.40"/><line x1="1276.6" y1="943.78" x2="1276.6" y2="950.38" stroke="#4f7dfb" stroke-width="1.40"/><line x1="1273.9" y1="969.33" x2="1298.5" y2="969.33" stroke="#4f7dfb" stroke-width="1.10"/><line x1="1205.0" y1="969.33" x2="1241.3" y2="969.33" stroke="#4f7dfb" stroke-width="1.10"/><line x1="1205.0" y1="966.03" x2="1205.0" y2="972.63" stroke="#4f7dfb" stroke-width="1.40"/><line x1="1298.5" y1="966.03" x2="1298.5" y2="972.63" stroke="#4f7dfb" stroke-width="1.40"/><line x1="1273.9" y1="991.58" x2="1298.5" y2="991.58" stroke="#4f7dfb" stroke-width="1.10"/><line x1="1205.0" y1="991.58" x2="1241.3" y2="991.58" stroke="#4f7dfb" stroke-width="1.10"/><line x1="1205.0" y1="988.28" x2="1205.0" y2="994.88" stroke="#4f7dfb" stroke-width="1.40"/><line x1="1298.5" y1="988.28" x2="1298.5" y2="994.88" stroke="#4f7dfb" stroke-width="1.40"/><line x1="1276.8" y1="1013.83" x2="1299.6" y2="1013.83" stroke="#4f7dfb" stroke-width="1.10"/><line x1="1222.4" y1="1013.83" x2="1249.3" y2="1013.83" stroke="#4f7dfb" stroke-width="1.10"/><line x1="1222.4" y1="1010.53" x2="1222.4" y2="1017.13" stroke="#4f7dfb" stroke-width="1.40"/><line x1="1299.6" y1="1010.53" x2="1299.6" y2="1017.13" stroke="#4f7dfb" stroke-width="1.40"/><line x1="1281.8" y1="1036.09" x2="1303.6" y2="1036.09" stroke="#4f7dfb" stroke-width="1.10"/><line x1="1227.5" y1="1036.09" x2="1254.1" y2="1036.09" stroke="#4f7dfb" stroke-width="1.10"/><line x1="1227.5" y1="1032.79" x2="1227.5" y2="1039.39" stroke="#4f7dfb" stroke-width="1.40"/><line x1="1303.6" y1="1032.79" x2="1303.6" y2="1039.39" stroke="#4f7dfb" stroke-width="1.40"/><line x1="1344.7" y1="1058.34" x2="1355.5" y2="1058.34" stroke="#4f7dfb" stroke-width="1.10"/><line x1="1313.4" y1="1058.34" x2="1329.1" y2="1058.34" stroke="#4f7dfb" stroke-width="1.10"/><line x1="1313.4" y1="1055.04" x2="1313.4" y2="1061.64" stroke="#4f7dfb" stroke-width="1.40"/><line x1="1355.5" y1="1055.04" x2="1355.5" y2="1061.64" stroke="#4f7dfb" stroke-width="1.40"/><line x1="1310.8" y1="1080.59" x2="1335.5" y2="1080.59" stroke="#4f7dfb" stroke-width="1.10"/><line x1="1236.5" y1="1080.59" x2="1276.2" y2="1080.59" stroke="#4f7dfb" stroke-width="1.10"/><line x1="1236.5" y1="1077.29" x2="1236.5" y2="1083.89" stroke="#4f7dfb" stroke-width="1.40"/><line x1="1335.5" y1="1077.29" x2="1335.5" y2="1083.89" stroke="#4f7dfb" stroke-width="1.40"/><line x1="1240.9" y1="1102.84" x2="1261.5" y2="1102.84" stroke="#4f7dfb" stroke-width="1.10"/><line x1="1191.8" y1="1102.84" x2="1217.2" y2="1102.84" stroke="#4f7dfb" stroke-width="1.10"/><line x1="1191.8" y1="1099.54" x2="1191.8" y2="1106.14" stroke="#4f7dfb" stroke-width="1.40"/><line x1="1261.5" y1="1099.54" x2="1261.5" y2="1106.14" stroke="#4f7dfb" stroke-width="1.40"/><line x1="1268.9" y1="1125.09" x2="1290.6" y2="1125.09" stroke="#4f7dfb" stroke-width="1.10"/><line x1="1209.6" y1="1125.09" x2="1240.1" y2="1125.09" stroke="#4f7dfb" stroke-width="1.10"/><line x1="1209.6" y1="1121.79" x2="1209.6" y2="1128.39" stroke="#4f7dfb" stroke-width="1.40"/><line x1="1290.6" y1="1121.79" x2="1290.6" y2="1128.39" stroke="#4f7dfb" stroke-width="1.40"/><line x1="1315.8" y1="1147.35" x2="1335.5" y2="1147.35" stroke="#4f7dfb" stroke-width="1.10"/><line x1="1263.5" y1="1147.35" x2="1291.2" y2="1147.35" stroke="#4f7dfb" stroke-width="1.10"/><line x1="1263.5" y1="1144.05" x2="1263.5" y2="1150.65" stroke="#4f7dfb" stroke-width="1.40"/><line x1="1335.5" y1="1144.05" x2="1335.5" y2="1150.65" stroke="#4f7dfb" stroke-width="1.40"/><line x1="1301.8" y1="1169.60" x2="1326.5" y2="1169.60" stroke="#4f7dfb" stroke-width="1.10"/><line x1="1240.0" y1="1169.60" x2="1265.1" y2="1169.60" stroke="#4f7dfb" stroke-width="1.10"/><line x1="1240.0" y1="1166.30" x2="1240.0" y2="1172.90" stroke="#4f7dfb" stroke-width="1.40"/><line x1="1326.5" y1="1166.30" x2="1326.5" y2="1172.90" stroke="#4f7dfb" stroke-width="1.40"/><line x1="1385.6" y1="1191.85" x2="1390.0" y2="1191.85" stroke="#4f7dfb" stroke-width="1.10"/><line x1="1362.3" y1="1191.85" x2="1376.2" y2="1191.85" stroke="#4f7dfb" stroke-width="1.10"/><line x1="1362.3" y1="1188.55" x2="1362.3" y2="1195.15" stroke="#4f7dfb" stroke-width="1.40"/><line x1="1390.0" y1="1188.55" x2="1390.0" y2="1195.15" stroke="#4f7dfb" stroke-width="1.40"/><line x1="1289.8" y1="1214.10" x2="1306.4" y2="1214.10" stroke="#4f7dfb" stroke-width="1.10"/><line x1="1250.0" y1="1214.10" x2="1267.1" y2="1214.10" stroke="#4f7dfb" stroke-width="1.10"/><line x1="1250.0" y1="1210.80" x2="1250.0" y2="1217.40" stroke="#4f7dfb" stroke-width="1.40"/><line x1="1306.4" y1="1210.80" x2="1306.4" y2="1217.40" stroke="#4f7dfb" stroke-width="1.40"/><line x1="1295.8" y1="1236.35" x2="1314.4" y2="1236.35" stroke="#4f7dfb" stroke-width="1.10"/><line x1="1239.0" y1="1236.35" x2="1269.9" y2="1236.35" stroke="#4f7dfb" stroke-width="1.10"/><line x1="1239.0" y1="1233.05" x2="1239.0" y2="1239.65" stroke="#4f7dfb" stroke-width="1.40"/><line x1="1314.4" y1="1233.05" x2="1314.4" y2="1239.65" stroke="#4f7dfb" stroke-width="1.40"/><line x1="1295.8" y1="1258.61" x2="1314.4" y2="1258.61" stroke="#4f7dfb" stroke-width="1.10"/><line x1="1239.0" y1="1258.61" x2="1269.9" y2="1258.61" stroke="#4f7dfb" stroke-width="1.10"/><line x1="1239.0" y1="1255.31" x2="1239.0" y2="1261.91" stroke="#4f7dfb" stroke-width="1.40"/><line x1="1314.4" y1="1255.31" x2="1314.4" y2="1261.91" stroke="#4f7dfb" stroke-width="1.40"/><line x1="1295.8" y1="1280.86" x2="1314.4" y2="1280.86" stroke="#4f7dfb" stroke-width="1.10"/><line x1="1239.0" y1="1280.86" x2="1269.9" y2="1280.86" stroke="#4f7dfb" stroke-width="1.10"/><line x1="1239.0" y1="1277.56" x2="1239.0" y2="1284.16" stroke="#4f7dfb" stroke-width="1.40"/><line x1="1314.4" y1="1277.56" x2="1314.4" y2="1284.16" stroke="#4f7dfb" stroke-width="1.40"/><line x1="1295.8" y1="1303.11" x2="1314.4" y2="1303.11" stroke="#4f7dfb" stroke-width="1.10"/><line x1="1239.0" y1="1303.11" x2="1269.9" y2="1303.11" stroke="#4f7dfb" stroke-width="1.10"/><line x1="1239.0" y1="1299.81" x2="1239.0" y2="1306.41" stroke="#4f7dfb" stroke-width="1.40"/><line x1="1314.4" y1="1299.81" x2="1314.4" y2="1306.41" stroke="#4f7dfb" stroke-width="1.40"/><line x1="1301.6" y1="1325.36" x2="1322.4" y2="1325.36" stroke="#4f7dfb" stroke-width="1.10"/><line x1="1243.5" y1="1325.36" x2="1275.0" y2="1325.36" stroke="#4f7dfb" stroke-width="1.10"/><line x1="1243.5" y1="1322.06" x2="1243.5" y2="1328.66" stroke="#4f7dfb" stroke-width="1.40"/><line x1="1322.4" y1="1322.06" x2="1322.4" y2="1328.66" stroke="#4f7dfb" stroke-width="1.40"/><line x1="1301.6" y1="1347.61" x2="1322.4" y2="1347.61" stroke="#4f7dfb" stroke-width="1.10"/><line x1="1243.5" y1="1347.61" x2="1275.0" y2="1347.61" stroke="#4f7dfb" stroke-width="1.10"/><line x1="1243.5" y1="1344.31" x2="1243.5" y2="1350.91" stroke="#4f7dfb" stroke-width="1.40"/><line x1="1322.4" y1="1344.31" x2="1322.4" y2="1350.91" stroke="#4f7dfb" stroke-width="1.40"/><line x1="1301.6" y1="1369.87" x2="1322.4" y2="1369.87" stroke="#4f7dfb" stroke-width="1.10"/><line x1="1243.5" y1="1369.87" x2="1275.0" y2="1369.87" stroke="#4f7dfb" stroke-width="1.10"/><line x1="1243.5" y1="1366.57" x2="1243.5" y2="1373.17" stroke="#4f7dfb" stroke-width="1.40"/><line x1="1322.4" y1="1366.57" x2="1322.4" y2="1373.17" stroke="#4f7dfb" stroke-width="1.40"/><line x1="1301.6" y1="1392.12" x2="1322.4" y2="1392.12" stroke="#4f7dfb" stroke-width="1.10"/><line x1="1243.5" y1="1392.12" x2="1275.0" y2="1392.12" stroke="#4f7dfb" stroke-width="1.10"/><line x1="1243.5" y1="1388.82" x2="1243.5" y2="1395.42" stroke="#4f7dfb" stroke-width="1.40"/><line x1="1322.4" y1="1388.82" x2="1322.4" y2="1395.42" stroke="#4f7dfb" stroke-width="1.40"/><line x1="1349.9" y1="1414.37" x2="1362.5" y2="1414.37" stroke="#4f7dfb" stroke-width="1.10"/><line x1="1280.0" y1="1414.37" x2="1326.9" y2="1414.37" stroke="#4f7dfb" stroke-width="1.10"/><line x1="1280.0" y1="1411.07" x2="1280.0" y2="1417.67" stroke="#4f7dfb" stroke-width="1.40"/><line x1="1362.5" y1="1411.07" x2="1362.5" y2="1417.67" stroke="#4f7dfb" stroke-width="1.40"/><line x1="1312.8" y1="1436.62" x2="1326.5" y2="1436.62" stroke="#4f7dfb" stroke-width="1.10"/><line x1="1280.0" y1="1436.62" x2="1293.0" y2="1436.62" stroke="#4f7dfb" stroke-width="1.10"/><line x1="1280.0" y1="1433.32" x2="1280.0" y2="1439.92" stroke="#4f7dfb" stroke-width="1.40"/><line x1="1326.5" y1="1433.32" x2="1326.5" y2="1439.92" stroke="#4f7dfb" stroke-width="1.40"/><line x1="1328.7" y1="1458.87" x2="1345.5" y2="1458.87" stroke="#4f7dfb" stroke-width="1.10"/><line x1="1285.0" y1="1458.87" x2="1306.0" y2="1458.87" stroke="#4f7dfb" stroke-width="1.10"/><line x1="1285.0" y1="1455.57" x2="1285.0" y2="1462.17" stroke="#4f7dfb" stroke-width="1.40"/><line x1="1345.5" y1="1455.57" x2="1345.5" y2="1462.17" stroke="#4f7dfb" stroke-width="1.40"/><line x1="1349.9" y1="1481.13" x2="1363.5" y2="1481.13" stroke="#4f7dfb" stroke-width="1.10"/><line x1="1290.0" y1="1481.13" x2="1327.9" y2="1481.13" stroke="#4f7dfb" stroke-width="1.10"/><line x1="1290.0" y1="1477.83" x2="1290.0" y2="1484.43" stroke="#4f7dfb" stroke-width="1.40"/><line x1="1363.5" y1="1477.83" x2="1363.5" y2="1484.43" stroke="#4f7dfb" stroke-width="1.40"/><line x1="1349.9" y1="1503.38" x2="1363.5" y2="1503.38" stroke="#4f7dfb" stroke-width="1.10"/><line x1="1290.0" y1="1503.38" x2="1327.9" y2="1503.38" stroke="#4f7dfb" stroke-width="1.10"/><line x1="1290.0" y1="1500.08" x2="1290.0" y2="1506.68" stroke="#4f7dfb" stroke-width="1.40"/><line x1="1363.5" y1="1500.08" x2="1363.5" y2="1506.68" stroke="#4f7dfb" stroke-width="1.40"/><line x1="1363.7" y1="1525.63" x2="1376.5" y2="1525.63" stroke="#4f7dfb" stroke-width="1.10"/><line x1="1311.4" y1="1525.63" x2="1341.9" y2="1525.63" stroke="#4f7dfb" stroke-width="1.10"/><line x1="1311.4" y1="1522.33" x2="1311.4" y2="1528.93" stroke="#4f7dfb" stroke-width="1.40"/><line x1="1376.5" y1="1522.33" x2="1376.5" y2="1528.93" stroke="#4f7dfb" stroke-width="1.40"/><line x1="1336.7" y1="1547.88" x2="1349.5" y2="1547.88" stroke="#4f7dfb" stroke-width="1.10"/><line x1="1295.0" y1="1547.88" x2="1314.0" y2="1547.88" stroke="#4f7dfb" stroke-width="1.10"/><line x1="1295.0" y1="1544.58" x2="1295.0" y2="1551.18" stroke="#4f7dfb" stroke-width="1.40"/><line x1="1349.5" y1="1544.58" x2="1349.5" y2="1551.18" stroke="#4f7dfb" stroke-width="1.40"/><line x1="1334.7" y1="1570.13" x2="1349.5" y2="1570.13" stroke="#4f7dfb" stroke-width="1.10"/><line x1="1290.0" y1="1570.13" x2="1314.0" y2="1570.13" stroke="#4f7dfb" stroke-width="1.10"/><line x1="1290.0" y1="1566.83" x2="1290.0" y2="1573.43" stroke="#4f7dfb" stroke-width="1.40"/><line x1="1349.5" y1="1566.83" x2="1349.5" y2="1573.43" stroke="#4f7dfb" stroke-width="1.40"/><line x1="1357.5" y1="1592.39" x2="1369.5" y2="1592.39" stroke="#4f7dfb" stroke-width="1.10"/><line x1="1320.0" y1="1592.39" x2="1337.9" y2="1592.39" stroke="#4f7dfb" stroke-width="1.10"/><line x1="1320.0" y1="1589.09" x2="1320.0" y2="1595.69" stroke="#4f7dfb" stroke-width="1.40"/><line x1="1369.5" y1="1589.09" x2="1369.5" y2="1595.69" stroke="#4f7dfb" stroke-width="1.40"/>
<rect x="110.2" y="95.30" width="96.3" height="12.4" fill="#ff0000"/><rect x="268.0" y="117.55" width="154.3" height="12.4" fill="#ff0000"/><rect x="510.1" y="139.81" width="85.6" height="12.4" fill="#ff0000"/><rect x="510.1" y="162.06" width="85.6" height="12.4" fill="#ff0000"/><rect x="580.9" y="184.31" width="97.3" height="12.4" fill="#ff0000"/><rect x="604.7" y="206.56" width="87.5" height="12.4" fill="#ff0000"/><rect x="605.7" y="228.81" width="86.5" height="12.4" fill="#ff0000"/><rect x="718.4" y="251.07" width="117.8" height="12.4" fill="#ff0000"/><rect x="718.4" y="273.32" width="117.8" height="12.4" fill="#ff0000"/><rect x="776.5" y="295.57" width="81.4" height="12.4" fill="#ff0000"/><rect x="896.0" y="317.82" width="70.6" height="12.4" fill="#ff0000"/><rect x="879.1" y="340.07" width="109.4" height="12.4" fill="#ff0000"/><rect x="879.1" y="362.33" width="109.4" height="12.4" fill="#ff0000"/><rect x="903.1" y="384.58" width="64.6" height="12.4" fill="#ff0000"/><rect x="918.0" y="406.83" width="60.9" height="12.4" fill="#ff0000"/><rect x="924.0" y="429.08" width="72.5" height="12.4" fill="#ff0000"/><rect x="949.1" y="451.33" width="35.9" height="12.4" fill="#ff0000"/><rect x="951.1" y="473.59" width="62.6" height="12.4" fill="#ff0000"/><rect x="951.1" y="495.84" width="62.6" height="12.4" fill="#ff0000"/><rect x="954.0" y="518.09" width="58.5" height="12.4" fill="#ff0000"/><rect x="952.0" y="540.34" width="64.5" height="12.4" fill="#ff0000"/><rect x="951.1" y="562.59" width="94.2" height="12.4" fill="#ff0000"/><rect x="983.2" y="584.85" width="59.3" height="12.4" fill="#ff0000"/><rect x="1061.7" y="607.10" width="76.2" height="12.4" fill="#ff0000"/><rect x="1083.8" y="629.35" width="42.5" height="12.4" fill="#ff0000"/><rect x="1068.5" y="651.60" width="79.4" height="12.4" fill="#ff0000"/><rect x="1085.4" y="673.85" width="42.9" height="12.4" fill="#ff0000"/><rect x="1088.6" y="696.11" width="44.5" height="12.4" fill="#ff0000"/><rect x="1118.6" y="718.36" width="46.5" height="12.4" fill="#ff0000"/><rect x="1136.5" y="740.61" width="34.5" height="12.4" fill="#ff0000"/><rect x="1134.4" y="762.86" width="43.8" height="12.4" fill="#ff0000"/><rect x="1141.3" y="785.11" width="35.9" height="12.4" fill="#ff0000"/><rect x="1141.3" y="807.37" width="50.8" height="12.4" fill="#ff0000"/><rect x="1141.3" y="829.62" width="50.8" height="12.4" fill="#ff0000"/><rect x="1148.6" y="851.87" width="49.4" height="12.4" fill="#ff0000"/><rect x="1157.6" y="874.12" width="41.5" height="12.4" fill="#ff0000"/><rect x="1160.3" y="896.37" width="62.8" height="12.4" fill="#ff0000"/><rect x="1175.3" y="918.63" width="29.6" height="12.4" fill="#ff0000"/><rect x="1177.2" y="940.88" width="31.8" height="12.4" fill="#ff0000"/><rect x="1180.4" y="963.13" width="40.6" height="12.4" fill="#ff0000"/><rect x="1180.4" y="985.38" width="40.6" height="12.4" fill="#ff0000"/><rect x="1188.4" y="1007.63" width="28.4" height="12.4" fill="#ff0000"/><rect x="1190.4" y="1029.89" width="29.6" height="12.4" fill="#ff0000"/><rect x="1189.4" y="1052.14" width="32.6" height="12.4" fill="#ff0000"/><rect x="1191.4" y="1074.39" width="37.5" height="12.4" fill="#ff0000"/><rect x="1199.4" y="1096.64" width="17.8" height="12.4" fill="#ff0000"/><rect x="1217.2" y="1118.89" width="22.9" height="12.4" fill="#ff0000"/><rect x="1218.2" y="1141.15" width="32.5" height="12.4" fill="#ff0000"/><rect x="1219.2" y="1163.40" width="31.5" height="12.4" fill="#ff0000"/><rect x="1225.3" y="1185.65" width="35.6" height="12.4" fill="#ff0000"/><rect x="1237.1" y="1207.90" width="29.0" height="12.4" fill="#ff0000"/><rect x="1240.1" y="1230.15" width="28.8" height="12.4" fill="#ff0000"/><rect x="1240.1" y="1252.41" width="28.8" height="12.4" fill="#ff0000"/><rect x="1240.1" y="1274.66" width="28.8" height="12.4" fill="#ff0000"/><rect x="1240.1" y="1296.91" width="28.8" height="12.4" fill="#ff0000"/><rect x="1255.1" y="1319.16" width="19.9" height="12.4" fill="#ff0000"/><rect x="1255.1" y="1341.41" width="19.9" height="12.4" fill="#ff0000"/><rect x="1255.1" y="1363.67" width="19.9" height="12.4" fill="#ff0000"/><rect x="1255.1" y="1385.92" width="19.9" height="12.4" fill="#ff0000"/><rect x="1262.1" y="1408.17" width="30.9" height="12.4" fill="#ff0000"/><rect x="1267.1" y="1430.42" width="22.7" height="12.4" fill="#ff0000"/><rect x="1271.9" y="1452.67" width="26.1" height="12.4" fill="#ff0000"/><rect x="1275.0" y="1474.93" width="26.8" height="12.4" fill="#ff0000"/><rect x="1275.0" y="1497.18" width="26.8" height="12.4" fill="#ff0000"/><rect x="1278.0" y="1519.43" width="26.8" height="12.4" fill="#ff0000"/><rect x="1278.0" y="1541.68" width="26.8" height="12.4" fill="#ff0000"/><rect x="1281.2" y="1563.93" width="19.6" height="12.4" fill="#ff0000"/><rect x="1306.0" y="1586.19" width="22.7" height="12.4" fill="#ff0000"/>
<rect x="383.30" y="95.80" width="98.20" height="11.40" fill="#4f7dfb" stroke="#3d6cff" stroke-width="1"/><rect x="676.50" y="118.05" width="92.00" height="11.40" fill="#4f7dfb" stroke="#3d6cff" stroke-width="1"/><rect x="596.20" y="140.31" width="107.70" height="11.40" fill="#4f7dfb" stroke="#3d6cff" stroke-width="1"/><rect x="596.20" y="162.56" width="107.70" height="11.40" fill="#4f7dfb" stroke="#3d6cff" stroke-width="1"/><rect x="693.10" y="184.81" width="79.00" height="11.40" fill="#4f7dfb" stroke="#3d6cff" stroke-width="1"/><rect x="759.10" y="207.06" width="73.30" height="11.40" fill="#4f7dfb" stroke="#3d6cff" stroke-width="1"/><rect x="692.70" y="229.31" width="93.40" height="11.40" fill="#4f7dfb" stroke="#3d6cff" stroke-width="1"/><rect x="951.20" y="251.57" width="93.40" height="11.40" fill="#4f7dfb" stroke="#3d6cff" stroke-width="1"/><rect x="951.20" y="273.82" width="93.40" height="11.40" fill="#4f7dfb" stroke="#3d6cff" stroke-width="1"/><rect x="970.40" y="296.07" width="62.60" height="11.40" fill="#4f7dfb" stroke="#3d6cff" stroke-width="1"/><rect x="969.30" y="318.32" width="61.70" height="11.40" fill="#4f7dfb" stroke="#3d6cff" stroke-width="1"/><rect x="1148.90" y="340.57" width="48.30" height="11.40" fill="#4f7dfb" stroke="#3d6cff" stroke-width="1"/><rect x="1148.90" y="362.83" width="48.30" height="11.40" fill="#4f7dfb" stroke="#3d6cff" stroke-width="1"/><rect x="1128.90" y="385.08" width="47.50" height="11.40" fill="#4f7dfb" stroke="#3d6cff" stroke-width="1"/><rect x="992.60" y="407.33" width="58.30" height="11.40" fill="#4f7dfb" stroke="#3d6cff" stroke-width="1"/><rect x="1130.10" y="429.58" width="45.50" height="11.40" fill="#4f7dfb" stroke="#3d6cff" stroke-width="1"/><rect x="976.50" y="451.83" width="61.40" height="11.40" fill="#4f7dfb" stroke="#3d6cff" stroke-width="1"/><rect x="1229.80" y="474.09" width="50.30" height="11.40" fill="#4f7dfb" stroke="#3d6cff" stroke-width="1"/><rect x="1045.40" y="496.34" width="59.10" height="11.40" fill="#4f7dfb" stroke="#3d6cff" stroke-width="1"/><rect x="1029.40" y="518.59" width="60.30" height="11.40" fill="#4f7dfb" stroke="#3d6cff" stroke-width="1"/><rect x="1064.30" y="540.84" width="54.30" height="11.40" fill="#4f7dfb" stroke="#3d6cff" stroke-width="1"/><rect x="1207.80" y="563.09" width="42.60" height="11.40" fill="#4f7dfb" stroke="#3d6cff" stroke-width="1"/><rect x="1043.00" y="585.35" width="59.50" height="11.40" fill="#4f7dfb" stroke="#3d6cff" stroke-width="1"/><rect x="1211.70" y="607.60" width="56.30" height="11.40" fill="#4f7dfb" stroke="#3d6cff" stroke-width="1"/><rect x="1162.00" y="629.85" width="36.30" height="11.40" fill="#4f7dfb" stroke="#3d6cff" stroke-width="1"/><rect x="1199.70" y="652.10" width="55.50" height="11.40" fill="#4f7dfb" stroke="#3d6cff" stroke-width="1"/><rect x="1231.80" y="674.35" width="47.50" height="11.40" fill="#4f7dfb" stroke="#3d6cff" stroke-width="1"/><rect x="1181.70" y="696.61" width="41.40" height="11.40" fill="#4f7dfb" stroke="#3d6cff" stroke-width="1"/><rect x="1219.70" y="718.86" width="29.50" height="11.40" fill="#4f7dfb" stroke="#3d6cff" stroke-width="1"/><rect x="1251.70" y="741.11" width="31.60" height="11.40" fill="#4f7dfb" stroke="#3d6cff" stroke-width="1"/><rect x="1255.70" y="763.36" width="22.80" height="11.40" fill="#4f7dfb" stroke="#3d6cff" stroke-width="1"/><rect x="1255.70" y="785.61" width="27.60" height="11.40" fill="#4f7dfb" stroke="#3d6cff" stroke-width="1"/><rect x="1230.80" y="807.87" width="42.60" height="11.40" fill="#4f7dfb" stroke="#3d6cff" stroke-width="1"/><rect x="1230.80" y="830.12" width="42.60" height="11.40" fill="#4f7dfb" stroke="#3d6cff" stroke-width="1"/><rect x="1236.70" y="852.37" width="33.70" height="11.40" fill="#4f7dfb" stroke="#3d6cff" stroke-width="1"/><rect x="1286.70" y="874.62" width="26.50" height="11.40" fill="#4f7dfb" stroke="#3d6cff" stroke-width="1"/><rect x="1309.70" y="896.87" width="28.60" height="11.40" fill="#4f7dfb" stroke="#3d6cff" stroke-width="1"/><rect x="1231.60" y="919.13" width="29.80" height="11.40" fill="#4f7dfb" stroke="#3d6cff" stroke-width="1"/><rect x="1219.90" y="941.38" width="30.50" height="11.40" fill="#4f7dfb" stroke="#3d6cff" stroke-width="1"/><rect x="1241.80" y="963.63" width="31.60" height="11.40" fill="#4f7dfb" stroke="#3d6cff" stroke-width="1"/><rect x="1241.80" y="985.88" width="31.60" height="11.40" fill="#4f7dfb" stroke="#3d6cff" stroke-width="1"/><rect x="1249.80" y="1008.13" width="26.50" height="11.40" fill="#4f7dfb" stroke="#3d6cff" stroke-width="1"/><rect x="1254.60" y="1030.39" width="26.70" height="11.40" fill="#4f7dfb" stroke="#3d6cff" stroke-width="1"/><rect x="1329.60" y="1052.64" width="14.60" height="11.40" fill="#4f7dfb" stroke="#3d6cff" stroke-width="1"/><rect x="1276.70" y="1074.89" width="33.60" height="11.40" fill="#4f7dfb" stroke="#3d6cff" stroke-width="1"/><rect x="1217.70" y="1097.14" width="22.70" height="11.40" fill="#4f7dfb" stroke="#3d6cff" stroke-width="1"/><rect x="1240.60" y="1119.39" width="27.80" height="11.40" fill="#4f7dfb" stroke="#3d6cff" stroke-width="1"/><rect x="1291.70" y="1141.65" width="23.60" height="11.40" fill="#4f7dfb" stroke="#3d6cff" stroke-width="1"/><rect x="1265.60" y="1163.90" width="35.70" height="11.40" fill="#4f7dfb" stroke="#3d6cff" stroke-width="1"/><rect x="1376.70" y="1186.15" width="8.40" height="11.40" fill="#4f7dfb" stroke="#3d6cff" stroke-width="1"/><rect x="1267.60" y="1208.40" width="21.70" height="11.40" fill="#4f7dfb" stroke="#3d6cff" stroke-width="1"/><rect x="1270.40" y="1230.65" width="24.90" height="11.40" fill="#4f7dfb" stroke="#3d6cff" stroke-width="1"/><rect x="1270.40" y="1252.91" width="24.90" height="11.40" fill="#4f7dfb" stroke="#3d6cff" stroke-width="1"/><rect x="1270.40" y="1275.16" width="24.90" height="11.40" fill="#4f7dfb" stroke="#3d6cff" stroke-width="1"/><rect x="1270.40" y="1297.41" width="24.90" height="11.40" fill="#4f7dfb" stroke="#3d6cff" stroke-width="1"/><rect x="1275.50" y="1319.66" width="25.60" height="11.40" fill="#4f7dfb" stroke="#3d6cff" stroke-width="1"/><rect x="1275.50" y="1341.91" width="25.60" height="11.40" fill="#4f7dfb" stroke="#3d6cff" stroke-width="1"/><rect x="1275.50" y="1364.17" width="25.60" height="11.40" fill="#4f7dfb" stroke="#3d6cff" stroke-width="1"/><rect x="1275.50" y="1386.42" width="25.60" height="11.40" fill="#4f7dfb" stroke="#3d6cff" stroke-width="1"/><rect x="1327.40" y="1408.67" width="22.00" height="11.40" fill="#4f7dfb" stroke="#3d6cff" stroke-width="1"/><rect x="1293.50" y="1430.92" width="18.80" height="11.40" fill="#4f7dfb" stroke="#3d6cff" stroke-width="1"/><rect x="1306.50" y="1453.17" width="21.70" height="11.40" fill="#4f7dfb" stroke="#3d6cff" stroke-width="1"/><rect x="1328.40" y="1475.43" width="21.00" height="11.40" fill="#4f7dfb" stroke="#3d6cff" stroke-width="1"/><rect x="1328.40" y="1497.68" width="21.00" height="11.40" fill="#4f7dfb" stroke="#3d6cff" stroke-width="1"/><rect x="1342.40" y="1519.93" width="20.80" height="11.40" fill="#4f7dfb" stroke="#3d6cff" stroke-width="1"/><rect x="1314.50" y="1542.18" width="21.70" height="11.40" fill="#4f7dfb" stroke="#3d6cff" stroke-width="1"/><rect x="1314.50" y="1564.43" width="19.70" height="11.40" fill="#4f7dfb" stroke="#3d6cff" stroke-width="1"/><rect x="1338.40" y="1586.69" width="18.60" height="11.40" fill="#4f7dfb" stroke="#3d6cff" stroke-width="1"/>
<line x1="979.5" y1="451.33" x2="979.5" y2="463.73" stroke="#ff0000" stroke-width="1.3"/>
<g fill="#000"><path d="M155.70 104.70L162.90 104.70L159.30 97.90Z"/><path d="M430.30 104.70L437.50 104.70L433.90 97.90Z"/><path d="M339.60 126.95L346.80 126.95L343.20 120.15Z"/><path d="M717.20 126.95L724.40 126.95L720.80 120.15Z"/><path d="M555.00 149.21L562.20 149.21L558.60 142.41Z"/><path d="M646.70 149.21L653.90 149.21L650.30 142.41Z"/><path d="M555.00 171.46L562.20 171.46L558.60 164.66Z"/><path d="M646.70 171.46L653.90 171.46L650.30 164.66Z"/><path d="M623.60 193.71L630.80 193.71L627.20 186.91Z"/><path d="M726.90 193.71L734.10 193.71L730.50 186.91Z"/><path d="M643.20 215.96L650.40 215.96L646.80 209.16Z"/><path d="M791.00 215.96L798.20 215.96L794.60 209.16Z"/><path d="M647.40 238.21L654.60 238.21L651.00 231.41Z"/><path d="M736.30 238.21L743.50 238.21L739.90 231.41Z"/><path d="M769.90 260.47L777.10 260.47L773.50 253.67Z"/><path d="M990.10 260.47L997.30 260.47L993.70 253.67Z"/><path d="M769.90 282.72L777.10 282.72L773.50 275.92Z"/><path d="M990.10 282.72L997.30 282.72L993.70 275.92Z"/><path d="M812.90 304.97L820.10 304.97L816.50 298.17Z"/><path d="M995.60 304.97L1002.80 304.97L999.20 298.17Z"/><path d="M926.60 327.22L933.80 327.22L930.20 320.42Z"/><path d="M993.40 327.22L1000.60 327.22L997.00 320.42Z"/><path d="M927.60 349.47L934.80 349.47L931.20 342.67Z"/><path d="M1164.90 349.47L1172.10 349.47L1168.50 342.67Z"/><path d="M927.60 371.73L934.80 371.73L931.20 364.93Z"/><path d="M1164.90 371.73L1172.10 371.73L1168.50 364.93Z"/><path d="M930.40 393.98L937.60 393.98L934.00 387.18Z"/><path d="M1146.80 393.98L1154.00 393.98L1150.40 387.18Z"/><path d="M942.40 416.23L949.60 416.23L946.00 409.43Z"/><path d="M1017.40 416.23L1024.60 416.23L1021.00 409.43Z"/><path d="M954.40 438.48L961.60 438.48L958.00 431.68Z"/><path d="M1148.00 438.48L1155.20 438.48L1151.60 431.68Z"/><path d="M974.70 460.73L981.90 460.73L978.30 453.93Z"/><path d="M1002.50 460.73L1009.70 460.73L1006.10 453.93Z"/><path d="M976.80 482.99L984.00 482.99L980.40 476.19Z"/><path d="M1249.40 482.99L1256.60 482.99L1253.00 476.19Z"/><path d="M976.80 505.24L984.00 505.24L980.40 498.44Z"/><path d="M1070.60 505.24L1077.80 505.24L1074.20 498.44Z"/><path d="M977.60 527.49L984.80 527.49L981.20 520.69Z"/><path d="M1054.60 527.49L1061.80 527.49L1058.20 520.69Z"/><path d="M978.80 549.74L986.00 549.74L982.40 542.94Z"/><path d="M1086.20 549.74L1093.40 549.74L1089.80 542.94Z"/><path d="M990.80 571.99L998.00 571.99L994.40 565.19Z"/><path d="M1224.10 571.99L1231.30 571.99L1227.70 565.19Z"/><path d="M1009.70 594.25L1016.90 594.25L1013.30 587.45Z"/><path d="M1067.40 594.25L1074.60 594.25L1071.00 587.45Z"/><path d="M1094.60 616.50L1101.80 616.50L1098.20 609.70Z"/><path d="M1233.70 616.50L1240.90 616.50L1237.30 609.70Z"/><path d="M1100.20 638.75L1107.40 638.75L1103.80 631.95Z"/><path d="M1176.00 638.75L1183.20 638.75L1179.60 631.95Z"/><path d="M1100.20 661.00L1107.40 661.00L1103.80 654.20Z"/><path d="M1220.00 661.00L1227.20 661.00L1223.60 654.20Z"/><path d="M1102.20 683.25L1109.40 683.25L1105.80 676.45Z"/><path d="M1249.70 683.25L1256.90 683.25L1253.30 676.45Z"/><path d="M1106.20 705.51L1113.40 705.51L1109.80 698.71Z"/><path d="M1198.00 705.51L1205.20 705.51L1201.60 698.71Z"/><path d="M1135.10 727.76L1142.30 727.76L1138.70 720.96Z"/><path d="M1229.70 727.76L1236.90 727.76L1233.30 720.96Z"/><path d="M1149.20 750.01L1156.40 750.01L1152.80 743.21Z"/><path d="M1262.80 750.01L1270.00 750.01L1266.40 743.21Z"/><path d="M1151.40 772.26L1158.60 772.26L1155.00 765.46Z"/><path d="M1261.70 772.26L1268.90 772.26L1265.30 765.46Z"/><path d="M1154.30 794.51L1161.50 794.51L1157.90 787.71Z"/><path d="M1264.70 794.51L1271.90 794.51L1268.30 787.71Z"/><path d="M1162.30 816.77L1169.50 816.77L1165.90 809.97Z"/><path d="M1246.80 816.77L1254.00 816.77L1250.40 809.97Z"/><path d="M1162.30 839.02L1169.50 839.02L1165.90 832.22Z"/><path d="M1246.80 839.02L1254.00 839.02L1250.40 832.22Z"/><path d="M1165.00 861.27L1172.20 861.27L1168.60 854.47Z"/><path d="M1248.90 861.27L1256.10 861.27L1252.50 854.47Z"/><path d="M1174.10 883.52L1181.30 883.52L1177.70 876.72Z"/><path d="M1294.90 883.52L1302.10 883.52L1298.50 876.72Z"/><path d="M1185.00 905.77L1192.20 905.77L1188.60 898.97Z"/><path d="M1317.60 905.77L1324.80 905.77L1321.20 898.97Z"/><path d="M1185.00 928.03L1192.20 928.03L1188.60 921.23Z"/><path d="M1242.80 928.03L1250.00 928.03L1246.40 921.23Z"/><path d="M1188.80 950.28L1196.00 950.28L1192.40 943.48Z"/><path d="M1230.70 950.28L1237.90 950.28L1234.30 943.48Z"/><path d="M1196.00 972.53L1203.20 972.53L1199.60 965.73Z"/><path d="M1252.90 972.53L1260.10 972.53L1256.50 965.73Z"/><path d="M1196.00 994.78L1203.20 994.78L1199.60 987.98Z"/><path d="M1252.90 994.78L1260.10 994.78L1256.50 987.98Z"/><path d="M1198.40 1017.03L1205.60 1017.03L1202.00 1010.23Z"/><path d="M1258.90 1017.03L1266.10 1017.03L1262.50 1010.23Z"/><path d="M1200.80 1039.29L1208.00 1039.29L1204.40 1032.49Z"/><path d="M1263.90 1039.29L1271.10 1039.29L1267.50 1032.49Z"/><path d="M1202.00 1061.54L1209.20 1061.54L1205.60 1054.74Z"/><path d="M1332.90 1061.54L1340.10 1061.54L1336.50 1054.74Z"/><path d="M1204.80 1083.79L1212.00 1083.79L1208.40 1076.99Z"/><path d="M1288.80 1083.79L1296.00 1083.79L1292.40 1076.99Z"/><path d="M1207.00 1106.04L1214.20 1106.04L1210.60 1099.24Z"/><path d="M1224.90 1106.04L1232.10 1106.04L1228.50 1099.24Z"/><path d="M1226.90 1128.29L1234.10 1128.29L1230.50 1121.49Z"/><path d="M1249.90 1128.29L1257.10 1128.29L1253.50 1121.49Z"/><path d="M1230.10 1150.55L1237.30 1150.55L1233.70 1143.75Z"/><path d="M1299.80 1150.55L1307.00 1150.55L1303.40 1143.75Z"/><path d="M1230.90 1172.80L1238.10 1172.80L1234.50 1166.00Z"/><path d="M1278.80 1172.80L1286.00 1172.80L1282.40 1166.00Z"/><path d="M1237.90 1195.05L1245.10 1195.05L1241.50 1188.25Z"/><path d="M1377.00 1195.05L1384.20 1195.05L1380.60 1188.25Z"/><path d="M1246.90 1217.30L1254.10 1217.30L1250.50 1210.50Z"/><path d="M1273.80 1217.30L1281.00 1217.30L1277.40 1210.50Z"/><path d="M1249.90 1239.55L1257.10 1239.55L1253.50 1232.75Z"/><path d="M1278.80 1239.55L1286.00 1239.55L1282.40 1232.75Z"/><path d="M1249.90 1261.81L1257.10 1261.81L1253.50 1255.01Z"/><path d="M1278.80 1261.81L1286.00 1261.81L1282.40 1255.01Z"/><path d="M1249.90 1284.06L1257.10 1284.06L1253.50 1277.26Z"/><path d="M1278.80 1284.06L1286.00 1284.06L1282.40 1277.26Z"/><path d="M1249.90 1306.31L1257.10 1306.31L1253.50 1299.51Z"/><path d="M1278.80 1306.31L1286.00 1306.31L1282.40 1299.51Z"/><path d="M1263.90 1328.56L1271.10 1328.56L1267.50 1321.76Z"/><path d="M1283.80 1328.56L1291.00 1328.56L1287.40 1321.76Z"/><path d="M1263.90 1350.81L1271.10 1350.81L1267.50 1344.01Z"/><path d="M1283.80 1350.81L1291.00 1350.81L1287.40 1344.01Z"/><path d="M1263.90 1373.07L1271.10 1373.07L1267.50 1366.27Z"/><path d="M1283.80 1373.07L1291.00 1373.07L1287.40 1366.27Z"/><path d="M1263.90 1395.32L1271.10 1395.32L1267.50 1388.52Z"/><path d="M1283.80 1395.32L1291.00 1395.32L1287.40 1388.52Z"/><path d="M1272.80 1417.57L1280.00 1417.57L1276.40 1410.77Z"/><path d="M1332.90 1417.57L1340.10 1417.57L1336.50 1410.77Z"/><path d="M1274.00 1439.82L1281.20 1439.82L1277.60 1433.02Z"/><path d="M1298.80 1439.82L1306.00 1439.82L1302.40 1433.02Z"/><path d="M1280.80 1462.07L1288.00 1462.07L1284.40 1455.27Z"/><path d="M1313.80 1462.07L1321.00 1462.07L1317.40 1455.27Z"/><path d="M1284.00 1484.33L1291.20 1484.33L1287.60 1477.53Z"/><path d="M1333.70 1484.33L1340.90 1484.33L1337.30 1477.53Z"/><path d="M1284.00 1506.58L1291.20 1506.58L1287.60 1499.78Z"/><path d="M1333.70 1506.58L1340.90 1506.58L1337.30 1499.78Z"/><path d="M1286.80 1528.83L1294.00 1528.83L1290.40 1522.03Z"/><path d="M1347.70 1528.83L1354.90 1528.83L1351.30 1522.03Z"/><path d="M1286.80 1551.08L1294.00 1551.08L1290.40 1544.28Z"/><path d="M1320.60 1551.08L1327.80 1551.08L1324.20 1544.28Z"/><path d="M1286.80 1573.33L1294.00 1573.33L1290.40 1566.53Z"/><path d="M1320.60 1573.33L1327.80 1573.33L1324.20 1566.53Z"/><path d="M1313.80 1595.59L1321.00 1595.59L1317.40 1588.79Z"/><path d="M1343.90 1595.59L1351.10 1595.59L1347.50 1588.79Z"/></g>
</g>
<rect x="1" y="78.9" width="1400.2" height="1536" fill="none" stroke="#808080" stroke-width="2"/>
<rect x="26.1" y="75.6" width="5" height="3.5" fill="#000"/>
<text x="3.60" y="66.05" font-size="28.643" font-weight="bold" font-style="normal" textLength="50.05" lengthAdjust="spacingAndGlyphs" fill="#000" stroke="#000" stroke-width="0.50" stroke-linejoin="round">2.6</text>
<rect x="131.6" y="75.6" width="5" height="3.5" fill="#000"/>
<text x="109.13" y="66.05" font-size="28.643" font-weight="bold" font-style="normal" textLength="48.91" lengthAdjust="spacingAndGlyphs" fill="#000" stroke="#000" stroke-width="0.50" stroke-linejoin="round">2.4</text>
<rect x="237.1" y="75.6" width="5" height="3.5" fill="#000"/>
<text x="214.60" y="66.05" font-size="28.643" font-weight="bold" font-style="normal" textLength="50.20" lengthAdjust="spacingAndGlyphs" fill="#000" stroke="#000" stroke-width="0.50" stroke-linejoin="round">2.2</text>
<rect x="342.6" y="75.6" width="5" height="3.5" fill="#000"/>
<text x="320.10" y="66.05" font-size="28.643" font-weight="bold" font-style="normal" textLength="50.23" lengthAdjust="spacingAndGlyphs" fill="#000" stroke="#000" stroke-width="0.50" stroke-linejoin="round">2.0</text>
<rect x="448.1" y="75.6" width="5" height="3.5" fill="#000"/>
<text x="424.54" y="66.05" font-size="28.643" font-weight="bold" font-style="normal" textLength="50.94" lengthAdjust="spacingAndGlyphs" fill="#000" stroke="#000" stroke-width="0.50" stroke-linejoin="round">1.8</text>
<rect x="553.6" y="75.6" width="5" height="3.5" fill="#000"/>
<text x="530.03" y="66.05" font-size="28.643" font-weight="bold" font-style="normal" textLength="51.15" lengthAdjust="spacingAndGlyphs" fill="#000" stroke="#000" stroke-width="0.50" stroke-linejoin="round">1.6</text>
<rect x="659.1" y="75.6" width="5" height="3.5" fill="#000"/>
<text x="635.59" y="66.05" font-size="28.643" font-weight="bold" font-style="normal" textLength="49.96" lengthAdjust="spacingAndGlyphs" fill="#000" stroke="#000" stroke-width="0.50" stroke-linejoin="round">1.4</text>
<rect x="764.6" y="75.6" width="5" height="3.5" fill="#000"/>
<text x="741.03" y="66.05" font-size="28.643" font-weight="bold" font-style="normal" textLength="51.30" lengthAdjust="spacingAndGlyphs" fill="#000" stroke="#000" stroke-width="0.50" stroke-linejoin="round">1.2</text>
<rect x="870.1" y="75.6" width="5" height="3.5" fill="#000"/>
<text x="846.52" y="66.05" font-size="28.643" font-weight="bold" font-style="normal" textLength="51.34" lengthAdjust="spacingAndGlyphs" fill="#000" stroke="#000" stroke-width="0.50" stroke-linejoin="round">1.0</text>
<rect x="975.6" y="75.6" width="5" height="3.5" fill="#000"/>
<text x="952.93" y="66.05" font-size="28.643" font-weight="bold" font-style="normal" textLength="50.03" lengthAdjust="spacingAndGlyphs" fill="#000" stroke="#000" stroke-width="0.50" stroke-linejoin="round">0.8</text>
<rect x="1081.1" y="75.6" width="5" height="3.5" fill="#000"/>
<text x="1058.42" y="66.05" font-size="28.643" font-weight="bold" font-style="normal" textLength="50.23" lengthAdjust="spacingAndGlyphs" fill="#000" stroke="#000" stroke-width="0.50" stroke-linejoin="round">0.6</text>
<rect x="1186.6" y="75.6" width="5" height="3.5" fill="#000"/>
<text x="1163.95" y="66.05" font-size="28.643" font-weight="bold" font-style="normal" textLength="49.09" lengthAdjust="spacingAndGlyphs" fill="#000" stroke="#000" stroke-width="0.50" stroke-linejoin="round">0.4</text>
<rect x="1292.1" y="75.6" width="5" height="3.5" fill="#000"/>
<text x="1269.42" y="66.05" font-size="28.643" font-weight="bold" font-style="normal" textLength="50.38" lengthAdjust="spacingAndGlyphs" fill="#000" stroke="#000" stroke-width="0.50" stroke-linejoin="round">0.2</text>
<rect x="1397.6" y="75.6" width="5" height="3.5" fill="#000"/>
<text x="1374.92" y="66.05" font-size="28.643" font-weight="bold" font-style="normal" textLength="50.42" lengthAdjust="spacingAndGlyphs" fill="#000" stroke="#000" stroke-width="0.50" stroke-linejoin="round">0.0</text>
<text x="604.53" y="25.90" font-size="35.466" font-weight="bold" font-style="normal" textLength="191.53" lengthAdjust="spacingAndGlyphs" fill="#000" stroke="#000" stroke-width="0.60" stroke-linejoin="round">Time (Ga)</text>
<rect x="1401" y="76.75" width="4.5" height="5" fill="#000"/>
<text x="1408.34" y="89.40" font-size="28.787" font-weight="bold" font-style="normal" textLength="21.28" lengthAdjust="spacingAndGlyphs" fill="#000" stroke="#000" stroke-width="0.50" stroke-linejoin="round">0</text>
<rect x="1401" y="299.27" width="4.5" height="5" fill="#000"/>
<text x="1409.26" y="311.92" font-size="28.787" font-weight="bold" font-style="normal" textLength="40.38" lengthAdjust="spacingAndGlyphs" fill="#000" stroke="#000" stroke-width="0.50" stroke-linejoin="round">10</text>
<rect x="1401" y="521.79" width="4.5" height="5" fill="#000"/>
<text x="1408.37" y="534.44" font-size="28.787" font-weight="bold" font-style="normal" textLength="41.10" lengthAdjust="spacingAndGlyphs" fill="#000" stroke="#000" stroke-width="0.50" stroke-linejoin="round">20</text>
<rect x="1401" y="744.31" width="4.5" height="5" fill="#000"/>
<text x="1408.81" y="756.96" font-size="28.787" font-weight="bold" font-style="normal" textLength="40.64" lengthAdjust="spacingAndGlyphs" fill="#000" stroke="#000" stroke-width="0.50" stroke-linejoin="round">30</text>
<rect x="1401" y="966.83" width="4.5" height="5" fill="#000"/>
<text x="1409.10" y="979.48" font-size="28.787" font-weight="bold" font-style="normal" textLength="40.34" lengthAdjust="spacingAndGlyphs" fill="#000" stroke="#000" stroke-width="0.50" stroke-linejoin="round">40</text>
<rect x="1401" y="1189.35" width="4.5" height="5" fill="#000"/>
<text x="1408.52" y="1202.00" font-size="28.787" font-weight="bold" font-style="normal" textLength="40.94" lengthAdjust="spacingAndGlyphs" fill="#000" stroke="#000" stroke-width="0.50" stroke-linejoin="round">50</text>
<rect x="1401" y="1411.87" width="4.5" height="5" fill="#000"/>
<text x="1408.29" y="1424.52" font-size="28.787" font-weight="bold" font-style="normal" textLength="41.17" lengthAdjust="spacingAndGlyphs" fill="#000" stroke="#000" stroke-width="0.50" stroke-linejoin="round">60</text>
<text transform="translate(1496.30 961.20) rotate(-90)" x="-2.60" y="0" font-size="38.373" font-weight="bold" font-style="normal" textLength="230.72" lengthAdjust="spacingAndGlyphs" fill="#000" stroke="#000" stroke-width="0.60" stroke-linejoin="round">HGT Event #</text>
<rect x="127.0" y="324.3" width="597.9" height="581.8" fill="#fff"/>
<line x1="285.10" y1="906.1" x2="285.10" y2="325.3" stroke="#000" stroke-width="1.7" stroke-dasharray="6.4 3.07"/>
<line x1="316.40" y1="906.1" x2="316.40" y2="325.3" stroke="#000" stroke-width="1.7" stroke-dasharray="6.4 3.07"/>
<line x1="410.30" y1="906.1" x2="410.30" y2="325.3" stroke="#000" stroke-width="1.7" stroke-dasharray="6.4 3.07"/>
<path d="M151.50 904.80C155.05 904.52 166.52 905.30 172.80 903.10C179.08 900.90 183.73 897.33 189.20 891.60C194.67 885.87 201.23 876.90 205.60 868.70C209.97 860.50 212.40 852.78 215.40 842.40C218.40 832.02 221.13 820.60 223.60 806.40C226.07 792.20 227.73 773.60 230.20 757.20C232.67 740.80 235.67 724.40 238.40 708.00C241.13 691.60 243.87 676.30 246.60 658.80C249.33 641.30 252.07 623.23 254.80 603.00C257.53 582.77 260.55 557.07 263.00 537.40C265.45 517.73 267.32 500.30 269.50 485.00C271.68 469.70 273.92 457.63 276.10 445.60C278.28 433.57 280.15 420.85 282.60 412.80C285.05 404.75 287.82 396.60 290.80 397.30C293.78 398.00 297.03 404.98 300.50 417.00C303.97 429.02 308.70 455.40 311.60 469.40C314.50 483.40 315.28 488.90 317.90 501.00C320.52 513.10 324.15 527.28 327.30 542.00C330.45 556.72 333.63 574.05 336.80 589.30C339.97 604.55 343.40 619.82 346.30 633.50C349.20 647.18 351.83 658.78 354.20 671.40C356.57 684.02 358.40 696.05 360.50 709.20C362.60 722.35 364.70 737.15 366.80 750.30C368.90 763.45 370.73 776.53 373.10 788.10C375.47 799.67 378.10 809.70 381.00 819.70C383.90 829.70 387.08 840.22 390.50 848.10C393.92 855.98 398.08 862.27 401.50 867.00C404.92 871.73 407.05 873.60 411.00 876.50C414.95 879.40 420.73 881.50 425.20 884.40C429.67 887.30 433.58 891.02 437.80 893.90C442.02 896.78 445.77 899.87 450.50 901.70C455.23 903.53 460.68 904.27 466.20 904.90C471.72 905.53 480.70 905.40 483.60 905.50" fill="none" stroke="#ff0000" stroke-width="4" stroke-linejoin="round" stroke-linecap="butt"/>
<path d="M291.00 905.80C294.95 905.55 308.65 904.98 314.70 904.30C320.75 903.62 323.08 903.97 327.30 901.70C331.52 899.43 335.78 895.17 340.00 890.70C344.22 886.23 348.40 879.90 352.60 874.90C356.80 869.90 361.52 866.22 365.20 860.70C368.88 855.18 371.80 849.17 374.70 841.80C377.60 834.43 379.97 827.02 382.60 816.50C385.23 805.98 387.60 793.42 390.50 778.70C393.40 763.98 396.85 746.62 400.00 728.20C403.15 709.78 406.25 689.23 409.40 668.20C412.55 647.17 415.73 624.08 418.90 602.00C422.07 579.92 425.25 556.22 428.40 535.70C431.55 515.18 434.65 495.20 437.80 478.90C440.95 462.60 444.40 447.37 447.30 437.90C450.20 428.43 453.25 425.12 455.20 422.10C457.15 419.08 457.42 419.53 459.00 419.80C460.58 420.07 462.43 419.12 464.70 423.70C466.97 428.28 469.72 435.47 472.60 447.30C475.48 459.13 478.85 477.33 482.00 494.70C485.15 512.07 488.33 532.57 491.50 551.50C494.67 570.43 497.85 590.42 501.00 608.30C504.15 626.18 507.25 643.03 510.40 658.80C513.55 674.57 516.73 687.65 519.90 702.90C523.07 718.15 526.25 736.10 529.40 750.30C532.55 764.50 535.12 776.53 538.80 788.10C542.48 799.67 547.28 809.17 551.50 819.70C555.72 830.23 559.90 841.83 564.10 851.30C568.30 860.77 572.50 870.20 576.70 876.50C580.90 882.80 584.57 885.68 589.30 889.10C594.03 892.52 599.83 894.52 605.10 897.00C610.37 899.48 615.10 902.58 620.90 904.00C626.70 905.42 633.07 905.57 639.90 905.50C646.73 905.43 655.07 903.70 661.90 903.60C668.73 903.50 674.58 904.58 680.90 904.90C687.22 905.22 696.65 905.40 699.80 905.50" fill="none" stroke="#4f7dfb" stroke-width="4" stroke-linejoin="round" stroke-linecap="butt"/>
<rect x="127.0" y="324.3" width="597.9" height="581.8" fill="none" stroke="#000" stroke-width="2.3"/>
<rect x="442" y="335.3" width="271.5" height="72.4" rx="4" fill="#fff" fill-opacity="0.8" stroke="#d0d0d0" stroke-width="1.2"/>
<line x1="448.3" y1="354" x2="497.8" y2="354" stroke="#ff0000" stroke-width="4"/>
<line x1="448.3" y1="386.1" x2="497.8" y2="386.1" stroke="#4f7dfb" stroke-width="4"/>
<text x="512.56" y="361.20" font-size="23.047" font-weight="bold" font-style="normal" textLength="153.08" lengthAdjust="spacingAndGlyphs" fill="#000" stroke="#000" stroke-width="0.40" stroke-linejoin="round">older bound</text>
<text x="514.00" y="393.20" font-size="22.495" font-weight="bold" font-style="normal" textLength="190.63" lengthAdjust="spacingAndGlyphs" fill="#000" stroke="#000" stroke-width="0.40" stroke-linejoin="round">younger bound</text>
<line x1="118" y1="906.20" x2="127" y2="906.20" stroke="#333" stroke-width="1.1"/>
<text x="73.97" y="913.43" font-size="20.695" font-weight="bold" font-style="normal" textLength="38.80" lengthAdjust="spacingAndGlyphs" fill="#000" stroke="#000" stroke-width="0.35" stroke-linejoin="round">0.0</text>
<line x1="118" y1="735.35" x2="127" y2="735.35" stroke="#333" stroke-width="1.1"/>
<text x="43.99" y="742.58" font-size="20.695" font-weight="bold" font-style="normal" textLength="68.39" lengthAdjust="spacingAndGlyphs" fill="#000" stroke="#000" stroke-width="0.35" stroke-linejoin="round">0.001</text>
<line x1="118" y1="564.50" x2="127" y2="564.50" stroke="#333" stroke-width="1.1"/>
<text x="43.99" y="571.73" font-size="20.695" font-weight="bold" font-style="normal" textLength="68.74" lengthAdjust="spacingAndGlyphs" fill="#000" stroke="#000" stroke-width="0.35" stroke-linejoin="round">0.002</text>
<line x1="118" y1="393.65" x2="127" y2="393.65" stroke="#333" stroke-width="1.1"/>
<text x="43.99" y="400.88" font-size="20.695" font-weight="bold" font-style="normal" textLength="68.63" lengthAdjust="spacingAndGlyphs" fill="#000" stroke="#000" stroke-width="0.35" stroke-linejoin="round">0.003</text>
<line x1="160.30" y1="906" x2="160.30" y2="912" stroke="#333" stroke-width="1.1"/>
<text x="140.70" y="935.03" font-size="19.836" font-weight="bold" font-style="normal" textLength="39.09" lengthAdjust="spacingAndGlyphs" fill="#000" stroke="#000" stroke-width="0.35" stroke-linejoin="round">2.8</text>
<line x1="223.00" y1="906" x2="223.00" y2="912" stroke="#333" stroke-width="1.1"/>
<text x="203.40" y="935.03" font-size="19.836" font-weight="bold" font-style="normal" textLength="39.25" lengthAdjust="spacingAndGlyphs" fill="#000" stroke="#000" stroke-width="0.35" stroke-linejoin="round">2.6</text>
<line x1="285.70" y1="906" x2="285.70" y2="912" stroke="#333" stroke-width="1.1"/>
<text x="266.12" y="935.03" font-size="19.836" font-weight="bold" font-style="normal" textLength="38.35" lengthAdjust="spacingAndGlyphs" fill="#000" stroke="#000" stroke-width="0.35" stroke-linejoin="round">2.4</text>
<line x1="348.40" y1="906" x2="348.40" y2="912" stroke="#333" stroke-width="1.1"/>
<text x="328.79" y="935.03" font-size="19.836" font-weight="bold" font-style="normal" textLength="39.37" lengthAdjust="spacingAndGlyphs" fill="#000" stroke="#000" stroke-width="0.35" stroke-linejoin="round">2.2</text>
<line x1="411.10" y1="906" x2="411.10" y2="912" stroke="#333" stroke-width="1.1"/>
<text x="391.49" y="935.03" font-size="19.836" font-weight="bold" font-style="normal" textLength="39.39" lengthAdjust="spacingAndGlyphs" fill="#000" stroke="#000" stroke-width="0.35" stroke-linejoin="round">2.0</text>
<line x1="473.80" y1="906" x2="473.80" y2="912" stroke="#333" stroke-width="1.1"/>
<text x="453.37" y="935.03" font-size="19.836" font-weight="bold" font-style="normal" textLength="39.94" lengthAdjust="spacingAndGlyphs" fill="#000" stroke="#000" stroke-width="0.35" stroke-linejoin="round">1.8</text>
<line x1="536.50" y1="906" x2="536.50" y2="912" stroke="#333" stroke-width="1.1"/>
<text x="516.06" y="935.03" font-size="19.836" font-weight="bold" font-style="normal" textLength="40.11" lengthAdjust="spacingAndGlyphs" fill="#000" stroke="#000" stroke-width="0.35" stroke-linejoin="round">1.6</text>
<line x1="599.20" y1="906" x2="599.20" y2="912" stroke="#333" stroke-width="1.1"/>
<text x="578.80" y="935.03" font-size="19.836" font-weight="bold" font-style="normal" textLength="39.18" lengthAdjust="spacingAndGlyphs" fill="#000" stroke="#000" stroke-width="0.35" stroke-linejoin="round">1.4</text>
<line x1="661.90" y1="906" x2="661.90" y2="912" stroke="#333" stroke-width="1.1"/>
<text x="641.45" y="935.03" font-size="19.836" font-weight="bold" font-style="normal" textLength="40.23" lengthAdjust="spacingAndGlyphs" fill="#000" stroke="#000" stroke-width="0.35" stroke-linejoin="round">1.2</text>
<line x1="724.60" y1="906" x2="724.60" y2="912" stroke="#333" stroke-width="1.1"/>
<text x="704.15" y="935.03" font-size="19.836" font-weight="bold" font-style="normal" textLength="40.26" lengthAdjust="spacingAndGlyphs" fill="#000" stroke="#000" stroke-width="0.35" stroke-linejoin="round">1.0</text>
<text x="364.40" y="959.30" font-size="21.367" font-weight="bold" font-style="normal" textLength="122.01" lengthAdjust="spacingAndGlyphs" fill="#000" stroke="#000" stroke-width="0.40" stroke-linejoin="round">Time (Ga)</text>
<text transform="translate(34.43 777.53) rotate(-90)" x="-1.80" y="0" font-size="22.166" font-weight="bold" font-style="normal" textLength="325.30" lengthAdjust="spacingAndGlyphs" fill="#000" stroke="#000" stroke-width="0.35" stroke-linejoin="round">Probability density (1/Ga)</text>
<text transform="translate(308.40 379.90) rotate(-90)" x="-1.11" y="0" font-size="23.111" font-weight="bold" font-style="italic" textLength="50.54" lengthAdjust="spacingAndGlyphs" fill="#000" stroke="#000" stroke-width="0.40" stroke-linejoin="round">GOE</text>
<text transform="translate(363.70 597.40) rotate(-90)" x="-0.45" y="0" font-size="23.402" font-weight="bold" font-style="italic" textLength="268.22" lengthAdjust="spacingAndGlyphs" fill="#000" stroke="#000" stroke-width="0.40" stroke-linejoin="round">Lomagundi Excursion</text>
<text x="14.06" y="321.90" font-size="67.071" font-weight="normal" font-style="normal" textLength="41.80" lengthAdjust="spacingAndGlyphs" fill="#000" stroke="#000" stroke-width="1.40" stroke-linejoin="round">b</text>
<rect x="16.4" y="987.4" width="1104.0" height="589.9" fill="#fff" stroke="#595959" stroke-width="2.2"/>
<path d="M271.4 1080.2V1401.2M271.4 1080.2H490.4M490.4 997.3V1153.3M490.4 997.3H819.8M490.4 1153.3H554.4M554.4 1066.9V1235.3M554.4 1066.9H598.9M598.9 1038.6V1101.0M598.9 1038.6H735.2M735.2 1024.2V1052.0M735.2 1024.2H819.8M735.2 1052.0H819.8M598.9 1101.0H631.3M631.3 1079.9V1122.4M631.3 1079.9H819.8M631.3 1122.4H696.8M696.8 1108.3V1135.8M696.8 1108.3H819.8M696.8 1135.8H819.8M554.4 1235.3H677.5M677.5 1163.6V1302.6M677.5 1163.6H819.8M677.5 1302.6H705.6M705.6 1273.7V1331.7M705.6 1331.7H819.8M705.6 1273.7H737.8M737.8 1244.4V1303.4M737.8 1303.4H819.8M737.8 1244.4H770.5M770.5 1212.7V1275.6M770.5 1275.6H819.8M770.5 1212.7H793.7M793.7 1191.7V1234.2M793.7 1191.7H819.8M793.7 1234.2H807.0M807.0 1219.9V1247.7M807.0 1219.9H819.8M807.0 1247.7H819.8M271.4 1401.2H432.1M432.1 1373.3V1429.7M432.1 1373.3H552.1M552.1 1359.4V1387.3M552.1 1359.4H819.8M552.1 1387.3H819.8M432.1 1429.7H637.0M637.0 1415.4V1443.3M637.0 1415.4H819.8M637.0 1443.3H819.8" fill="none" stroke="#4f7dfb" stroke-width="2.2" stroke-linecap="square"/>
<path d="M117.4 1354.6V1237.7H271.4" fill="none" stroke="#000" stroke-width="2.3"/>
<path d="M48 1354.6H117.4" fill="none" stroke="#000" stroke-width="2.4"/>
<path d="M117.4 1354.6V1470.9H300" fill="none" stroke="#ff0000" stroke-width="2.3"/>
<path d="M287 1469.8L821.2 1456.5L821.2 1486L287 1472Z" fill="#ff0000"/>
<circle cx="271.5" cy="1238" r="8.4" fill="#4a74ff"/>
<circle cx="117.5" cy="1354.7" r="8.6" fill="#ff0000"/>
<g fill="#9b9b9b" fill-opacity="0.65"><rect x="418.0" y="1075.0" width="135.2" height="10.5"/><rect x="503.7" y="1148.0" width="105.5" height="10.5"/><rect x="546.7" y="1061.7" width="103.6" height="10.5"/><rect x="687.3" y="1033.3" width="89.8" height="10.5"/><rect x="583.0" y="1095.8" width="102.7" height="10.5"/><rect x="653.4" y="1117.2" width="92.9" height="10.5"/><rect x="640.8" y="1230.2" width="78.1" height="10.5"/><rect x="668.1" y="1297.2" width="65.8" height="10.5"/><rect x="707.7" y="1268.7" width="53.3" height="10.5"/><rect x="751.9" y="1238.2" width="35.0" height="10.5"/><rect x="781.3" y="1207.5" width="24.6" height="10.5"/><rect x="798.2" y="1228.3" width="15.1" height="10.5"/><rect x="333.1" y="1396.0" width="191.6" height="10.5"/><rect x="448.5" y="1368.0" width="193.5" height="10.5"/><rect x="550.2" y="1424.5" width="162.2" height="10.5"/><rect x="190.2" y="1232.2" width="167.5" height="10.5"/><rect x="40.0" y="1349.5" width="168.4" height="10.5"/></g>
<line x1="58" y1="1338.2" x2="95.1" y2="1338.2" stroke="#222" stroke-width="1.4"/>
<path d="M40.4 1338.2L59.4 1331L57.2 1338.2L59.4 1345.4Z" fill="#000"/>
<line x1="147.9" y1="1175.7" x2="147.9" y2="1212" stroke="#222" stroke-width="1.4"/>
<path d="M147.9 1229.6L140.9 1210L147.9 1212.2L154.9 1210Z" fill="#000"/>
<rect x="1068" y="1334.5" width="2.4" height="22" fill="none" stroke="#c8d4ff" stroke-width="0.8"/>
<text x="827.26" y="1005.15" font-size="19.186" font-weight="bold" font-style="italic" textLength="168.24" lengthAdjust="spacingAndGlyphs" fill="#000" stroke="#000" stroke-width="0.70" stroke-linejoin="round">Casp Chloro G3</text>
<text x="827.94" y="1032.15" font-size="19.186" font-weight="bold" font-style="italic" textLength="165.70" lengthAdjust="spacingAndGlyphs" fill="#000" stroke="#000" stroke-width="0.70" stroke-linejoin="round">Io17 Chloro G7</text>
<text x="827.94" y="1057.25" font-size="19.186" font-weight="bold" font-style="italic" textLength="166.61" lengthAdjust="spacingAndGlyphs" fill="#000" stroke="#000" stroke-width="0.70" stroke-linejoin="round">Io17 Chloro G4</text>
<text x="827.94" y="1084.85" font-size="19.186" font-weight="bold" font-style="italic" textLength="283.35" lengthAdjust="spacingAndGlyphs" fill="#000" stroke="#000" stroke-width="0.70" stroke-linejoin="round">MP SInd SRR 3963457 G2</text>
<text x="827.94" y="1113.25" font-size="19.186" font-weight="bold" font-style="italic" textLength="165.61" lengthAdjust="spacingAndGlyphs" fill="#000" stroke="#000" stroke-width="0.70" stroke-linejoin="round">Io17 Chloro G9</text>
<text x="827.94" y="1141.05" font-size="19.186" font-weight="bold" font-style="italic" textLength="166.85" lengthAdjust="spacingAndGlyphs" fill="#000" stroke="#000" stroke-width="0.70" stroke-linejoin="round">Io17 Chloro G2</text>
<text x="827.94" y="1168.85" font-size="19.186" font-weight="bold" font-style="italic" textLength="166.49" lengthAdjust="spacingAndGlyphs" fill="#000" stroke="#000" stroke-width="0.70" stroke-linejoin="round">Io17 Chloro G6</text>
<text x="827.94" y="1196.65" font-size="19.186" font-weight="bold" font-style="italic" textLength="276.85" lengthAdjust="spacingAndGlyphs" fill="#000" stroke="#000" stroke-width="0.70" stroke-linejoin="round">MP SAtl SRR 3965592 G1</text>
<text x="827.94" y="1225.35" font-size="19.186" font-weight="bold" font-style="italic" textLength="284.37" lengthAdjust="spacingAndGlyphs" fill="#000" stroke="#000" stroke-width="0.70" stroke-linejoin="round">MP SInd SRR 3963457 G1</text>
<text x="827.95" y="1253.75" font-size="19.186" font-weight="bold" font-style="italic" textLength="286.44" lengthAdjust="spacingAndGlyphs" fill="#000" stroke="#000" stroke-width="0.70" stroke-linejoin="round">MP NPac SRR 3961935 G1</text>
<text x="827.94" y="1280.45" font-size="19.186" font-weight="bold" font-style="italic" textLength="166.65" lengthAdjust="spacingAndGlyphs" fill="#000" stroke="#000" stroke-width="0.70" stroke-linejoin="round">Io17 Chloro G8</text>
<text x="827.94" y="1308.25" font-size="19.186" font-weight="bold" font-style="italic" textLength="166.74" lengthAdjust="spacingAndGlyphs" fill="#000" stroke="#000" stroke-width="0.70" stroke-linejoin="round">Io17 Chloro G5</text>
<text x="827.27" y="1335.45" font-size="19.186" font-weight="bold" font-style="italic" textLength="167.91" lengthAdjust="spacingAndGlyphs" fill="#000" stroke="#000" stroke-width="0.70" stroke-linejoin="round">Casp Chloro G2</text>
<text x="827.94" y="1363.85" font-size="19.186" font-weight="bold" font-style="italic" textLength="165.76" lengthAdjust="spacingAndGlyphs" fill="#000" stroke="#000" stroke-width="0.70" stroke-linejoin="round">Io17 Chloro G1</text>
<text x="827.27" y="1391.65" font-size="19.186" font-weight="bold" font-style="italic" textLength="167.66" lengthAdjust="spacingAndGlyphs" fill="#000" stroke="#000" stroke-width="0.70" stroke-linejoin="round">Casp Chloro G4</text>
<text x="828.07" y="1418.95" font-size="19.186" font-weight="bold" font-style="italic" textLength="180.24" lengthAdjust="spacingAndGlyphs" fill="#000" stroke="#000" stroke-width="0.70" stroke-linejoin="round">SIo17 Chloro G3</text>
<text x="828.81" y="1447.25" font-size="19.186" font-weight="bold" font-style="italic" textLength="155.27" lengthAdjust="spacingAndGlyphs" fill="#000" stroke="#000" stroke-width="0.70" stroke-linejoin="round">Ae2 Chloro G2</text>
<text x="827.96" y="1474.95" font-size="19.186" font-weight="bold" font-style="italic" textLength="177.35" lengthAdjust="spacingAndGlyphs" fill="#000" stroke="#000" stroke-width="0.70" stroke-linejoin="round">Dehalococcoidia</text>
<text x="18.08" y="1139.50" font-size="19.186" font-weight="bold" font-style="normal" textLength="252.35" lengthAdjust="spacingAndGlyphs" fill="#000" stroke="#000" stroke-width="0.60" stroke-linejoin="round">initial HGT acquisition:</text>
<text x="79.30" y="1163.90" font-size="19.186" font-weight="bold" font-style="normal" textLength="125.97" lengthAdjust="spacingAndGlyphs" fill="#000" stroke="#000" stroke-width="0.60" stroke-linejoin="round">BVMO gene</text>
<text x="173.59" y="1266.60" font-size="18.750" font-weight="bold" font-style="italic" textLength="216.35" lengthAdjust="spacingAndGlyphs" fill="#000" stroke="#000" stroke-width="0.60" stroke-linejoin="round">ancestor of SAR202</text>
<text transform="translate(60.50 1312.60) rotate(-90)" x="-0.31" y="0" font-size="21.667" font-weight="bold" font-style="normal" textLength="94.60" lengthAdjust="spacingAndGlyphs" fill="#000" stroke="#000" stroke-width="0.60" stroke-linejoin="round">to other</text>
<text transform="translate(85.40 1325.50) rotate(-90)" x="-1.11" y="0" font-size="21.221" font-weight="bold" font-style="italic" textLength="118.82" lengthAdjust="spacingAndGlyphs" fill="#000" stroke="#000" stroke-width="0.60" stroke-linejoin="round">Chloroflexi</text>
<text x="26.26" y="1046.25" font-size="64.860" font-weight="normal" font-style="normal" textLength="29.99" lengthAdjust="spacingAndGlyphs" fill="#000" stroke="#000" stroke-width="1.50" stroke-linejoin="round">a</text>
<line x1="41.5" y1="1506.6" x2="821" y2="1506.6" stroke="#222" stroke-width="1.8"/>
<line x1="42.7" y1="1506" x2="42.7" y2="1510" stroke="#222" stroke-width="1.2"/>
<text x="24.61" y="1535.05" font-size="23.058" font-weight="bold" font-style="normal" textLength="36.14" lengthAdjust="spacingAndGlyphs" fill="#000" stroke="#000" stroke-width="0.30" stroke-linejoin="round">2.6</text>
<line x1="102.4" y1="1506" x2="102.4" y2="1510" stroke="#222" stroke-width="1.2"/>
<text x="84.41" y="1535.05" font-size="23.058" font-weight="bold" font-style="normal" textLength="35.32" lengthAdjust="spacingAndGlyphs" fill="#000" stroke="#000" stroke-width="0.30" stroke-linejoin="round">2.4</text>
<line x1="162.2" y1="1506" x2="162.2" y2="1510" stroke="#222" stroke-width="1.2"/>
<text x="144.17" y="1535.05" font-size="23.058" font-weight="bold" font-style="normal" textLength="36.25" lengthAdjust="spacingAndGlyphs" fill="#000" stroke="#000" stroke-width="0.30" stroke-linejoin="round">2.2</text>
<line x1="222.0" y1="1506" x2="222.0" y2="1510" stroke="#222" stroke-width="1.2"/>
<text x="203.95" y="1535.05" font-size="23.058" font-weight="bold" font-style="normal" textLength="36.27" lengthAdjust="spacingAndGlyphs" fill="#000" stroke="#000" stroke-width="0.30" stroke-linejoin="round">2.0</text>
<line x1="281.8" y1="1506" x2="281.8" y2="1510" stroke="#222" stroke-width="1.2"/>
<text x="262.96" y="1535.05" font-size="23.058" font-weight="bold" font-style="normal" textLength="36.78" lengthAdjust="spacingAndGlyphs" fill="#000" stroke="#000" stroke-width="0.30" stroke-linejoin="round">1.8</text>
<line x1="341.6" y1="1506" x2="341.6" y2="1510" stroke="#222" stroke-width="1.2"/>
<text x="322.74" y="1535.05" font-size="23.058" font-weight="bold" font-style="normal" textLength="36.93" lengthAdjust="spacingAndGlyphs" fill="#000" stroke="#000" stroke-width="0.30" stroke-linejoin="round">1.6</text>
<line x1="401.3" y1="1506" x2="401.3" y2="1510" stroke="#222" stroke-width="1.2"/>
<text x="382.56" y="1535.05" font-size="23.058" font-weight="bold" font-style="normal" textLength="36.07" lengthAdjust="spacingAndGlyphs" fill="#000" stroke="#000" stroke-width="0.30" stroke-linejoin="round">1.4</text>
<line x1="461.1" y1="1506" x2="461.1" y2="1510" stroke="#222" stroke-width="1.2"/>
<text x="442.29" y="1535.05" font-size="23.058" font-weight="bold" font-style="normal" textLength="37.05" lengthAdjust="spacingAndGlyphs" fill="#000" stroke="#000" stroke-width="0.30" stroke-linejoin="round">1.2</text>
<line x1="520.9" y1="1506" x2="520.9" y2="1510" stroke="#222" stroke-width="1.2"/>
<text x="502.07" y="1535.05" font-size="23.058" font-weight="bold" font-style="normal" textLength="37.07" lengthAdjust="spacingAndGlyphs" fill="#000" stroke="#000" stroke-width="0.30" stroke-linejoin="round">1.0</text>
<line x1="580.7" y1="1506" x2="580.7" y2="1510" stroke="#222" stroke-width="1.2"/>
<text x="562.50" y="1535.05" font-size="23.058" font-weight="bold" font-style="normal" textLength="36.13" lengthAdjust="spacingAndGlyphs" fill="#000" stroke="#000" stroke-width="0.30" stroke-linejoin="round">0.8</text>
<line x1="640.5" y1="1506" x2="640.5" y2="1510" stroke="#222" stroke-width="1.2"/>
<text x="622.28" y="1535.05" font-size="23.058" font-weight="bold" font-style="normal" textLength="36.27" lengthAdjust="spacingAndGlyphs" fill="#000" stroke="#000" stroke-width="0.30" stroke-linejoin="round">0.6</text>
<line x1="700.2" y1="1506" x2="700.2" y2="1510" stroke="#222" stroke-width="1.2"/>
<text x="682.08" y="1535.05" font-size="23.058" font-weight="bold" font-style="normal" textLength="35.45" lengthAdjust="spacingAndGlyphs" fill="#000" stroke="#000" stroke-width="0.30" stroke-linejoin="round">0.4</text>
<line x1="760.0" y1="1506" x2="760.0" y2="1510" stroke="#222" stroke-width="1.2"/>
<text x="741.83" y="1535.05" font-size="23.058" font-weight="bold" font-style="normal" textLength="36.38" lengthAdjust="spacingAndGlyphs" fill="#000" stroke="#000" stroke-width="0.30" stroke-linejoin="round">0.2</text>
<line x1="819.8" y1="1506" x2="819.8" y2="1510" stroke="#222" stroke-width="1.2"/>
<text x="812.39" y="1535.05" font-size="23.058" font-weight="bold" font-style="normal" textLength="14.85" lengthAdjust="spacingAndGlyphs" fill="#000" stroke="#000" stroke-width="0.30" stroke-linejoin="round">0</text>
<text x="391.32" y="1563.45" font-size="26.890" font-weight="bold" font-style="normal" textLength="134.58" lengthAdjust="spacingAndGlyphs" fill="#000" stroke="#000" stroke-width="0.50" stroke-linejoin="round">Time (Ga)</text>
</svg></body></html>
